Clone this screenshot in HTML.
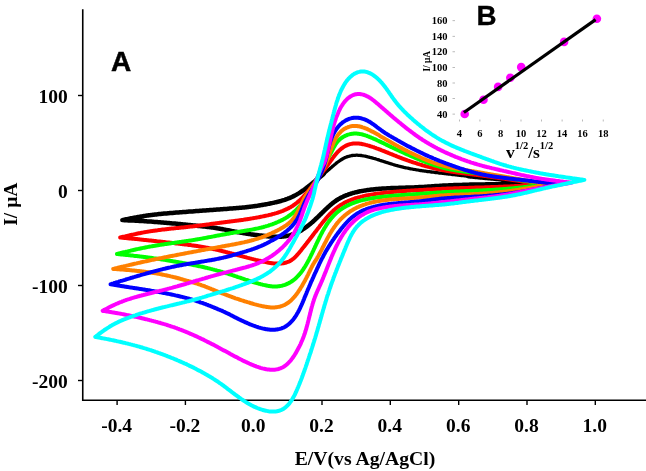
<!DOCTYPE html>
<html><head><meta charset="utf-8"><style>
html,body{margin:0;padding:0;background:#fff;}
svg{display:block;will-change:transform;}
.mt{font-family:"Liberation Serif",serif;font-weight:bold;font-size:19.5px;fill:#000;}
.it{font-family:"Liberation Serif",serif;font-weight:bold;font-size:10.5px;fill:#000;}
.lab{font-family:"Liberation Sans",sans-serif;font-weight:bold;font-size:27px;fill:#000;}
</style></head><body>
<svg width="646" height="471" viewBox="0 0 646 471">
<rect width="646" height="471" fill="#fff"/>
<line x1="82.75" y1="9.3" x2="82.75" y2="401" stroke="#000" stroke-width="1.6"/>
<line x1="82" y1="400.3" x2="646" y2="400.3" stroke="#000" stroke-width="1.6"/>
<line x1="117.1" y1="400" x2="117.1" y2="405" stroke="#000" stroke-width="1.4"/><text x="116.6" y="432.2" text-anchor="middle" class="mt">-0.4</text><line x1="185.4" y1="400" x2="185.4" y2="405" stroke="#000" stroke-width="1.4"/><text x="184.9" y="432.2" text-anchor="middle" class="mt">-0.2</text><text x="253.2" y="432.2" text-anchor="middle" class="mt">0.0</text><line x1="322.0" y1="400" x2="322.0" y2="405" stroke="#000" stroke-width="1.4"/><text x="321.5" y="432.2" text-anchor="middle" class="mt">0.2</text><line x1="390.3" y1="400" x2="390.3" y2="405" stroke="#000" stroke-width="1.4"/><text x="389.8" y="432.2" text-anchor="middle" class="mt">0.4</text><line x1="458.7" y1="400" x2="458.7" y2="405" stroke="#000" stroke-width="1.4"/><text x="458.2" y="432.2" text-anchor="middle" class="mt">0.6</text><line x1="527.0" y1="400" x2="527.0" y2="405" stroke="#000" stroke-width="1.4"/><text x="526.5" y="432.2" text-anchor="middle" class="mt">0.8</text><line x1="595.3" y1="400" x2="595.3" y2="405" stroke="#000" stroke-width="1.4"/><text x="594.8" y="432.2" text-anchor="middle" class="mt">1.0</text><line x1="78" y1="95.5" x2="83" y2="95.5" stroke="#000" stroke-width="1.4"/><text x="67.8" y="102.7" text-anchor="end" class="mt">100</text><line x1="78" y1="190.5" x2="83" y2="190.5" stroke="#000" stroke-width="1.4"/><text x="67.8" y="197.7" text-anchor="end" class="mt">0</text><line x1="78" y1="285.5" x2="83" y2="285.5" stroke="#000" stroke-width="1.4"/><text x="67.8" y="292.7" text-anchor="end" class="mt">-100</text><line x1="78" y1="380.5" x2="83" y2="380.5" stroke="#000" stroke-width="1.4"/><text x="67.8" y="387.7" text-anchor="end" class="mt">-200</text>
<text x="365" y="465" text-anchor="middle" class="mt" style="font-size:19.7px">E/V(vs Ag/AgCl)</text>
<text transform="translate(17.2,204.2) rotate(-90)" text-anchor="middle" class="mt">I/ &#956;A</text>
<text x="121.2" y="70.5" text-anchor="middle" class="lab" style="font-size:28px" stroke="#000" stroke-width="0.5">A</text>
<path d="M322.1,175.3 322.9,174.7 323.6,174.0 324.4,173.4 325.2,172.7 326.0,172.1 326.7,171.4 327.5,170.8 328.3,170.1 329.0,169.5 329.8,168.8 330.6,168.1 331.3,167.5 332.1,166.8 332.8,166.1 333.6,165.5 334.4,164.8 335.2,164.2 335.9,163.6 336.7,162.9 337.5,162.3 338.3,161.7 339.1,161.1 339.9,160.6 340.8,160.0 341.6,159.5 342.4,159.0 343.3,158.5 344.1,158.1 345.0,157.6 345.9,157.3 346.8,156.9 347.7,156.6 348.6,156.3 349.5,156.1 350.5,155.8 351.4,155.7 352.3,155.5 353.3,155.4 354.3,155.3 355.2,155.3 356.2,155.2 357.2,155.2 358.1,155.3 359.1,155.3 360.1,155.4 361.1,155.5 362.1,155.7 363.1,155.8 364.1,156.0 365.1,156.2 366.0,156.4 367.0,156.6 368.0,156.9 369.0,157.1 370.0,157.4 371.0,157.6 372.0,157.9 372.9,158.2 373.9,158.5 374.9,158.7 375.9,159.0 376.8,159.3 377.8,159.6 378.8,159.9 379.7,160.3 380.7,160.6 381.7,160.9 382.6,161.2 383.6,161.5 384.6,161.8 385.5,162.1 386.5,162.4 387.4,162.7 388.4,163.0 389.4,163.3 390.3,163.6 391.3,163.9 392.3,164.2 393.2,164.5 394.2,164.8 395.1,165.1 396.1,165.4 397.1,165.6 398.0,165.9 399.0,166.2 400.0,166.4 400.9,166.7 401.9,166.9 402.9,167.1 403.9,167.4 404.8,167.6 405.8,167.8 406.8,168.0 407.8,168.2 408.7,168.4 409.7,168.6 410.7,168.8 411.7,169.0 412.7,169.2 413.7,169.3 414.6,169.5 415.6,169.7 416.6,169.8 417.6,170.0 418.6,170.2 419.6,170.3 420.6,170.5 421.6,170.6 422.6,170.8 423.5,170.9 424.5,171.1 425.5,171.2 426.5,171.3 427.5,171.5 428.5,171.6 429.5,171.7 430.5,171.9 431.5,172.0 432.5,172.1 433.5,172.2 434.5,172.4 435.5,172.5 436.5,172.6 437.5,172.7 438.4,172.8 439.4,173.0 440.4,173.1 441.4,173.2 442.4,173.3 443.4,173.4 444.4,173.6 445.4,173.7 446.4,173.8 447.4,173.9 448.4,174.0 449.4,174.1 450.4,174.2 451.4,174.4 452.4,174.5 453.4,174.6 454.4,174.7 455.4,174.8 456.4,174.9 457.4,175.0 458.3,175.2 459.3,175.3 460.3,175.4 461.3,175.5 462.3,175.6 463.3,175.7 464.3,175.8 465.3,175.9 466.3,176.0 467.3,176.1 468.3,176.2 469.3,176.3" stroke="#000" stroke-width="3.3" fill="none" stroke-linecap="round"/>
<path d="M468.3,176.2 469.3,176.3 470.3,176.4 471.3,176.5 472.3,176.6 473.3,176.7 474.3,176.8 475.3,176.9 476.3,177.0 477.3,177.1 478.3,177.2 479.3,177.3 480.3,177.4 481.3,177.5 482.3,177.6 483.3,177.7 484.3,177.8 485.2,177.9 486.2,178.0 487.2,178.1 488.2,178.2 489.2,178.2 490.2,178.3 491.2,178.4 492.2,178.5 493.2,178.6 494.2,178.7 495.2,178.8 496.2,178.9 497.2,179.0 498.2,179.1 499.2,179.2 500.2,179.3 501.2,179.4 502.2,179.6 503.2,179.7 504.2,179.8 505.2,179.9 506.2,180.0 507.2,180.1 508.2,180.2 509.2,180.3 510.2,180.4 511.2,180.5 512.1,180.7 513.1,180.8 514.1,180.9 515.1,181.0 516.1,181.1 517.1,181.2 518.1,181.3 519.1,181.5 520.1,181.6 521.1,181.7 522.1,181.8 523.1,181.9 524.1,182.1 525.1,182.2 526.1,182.3 527.1,182.4 528.1,182.5 529.1,182.7 530.1,182.8 531.1,182.9 532.0,183.0 533.0,183.1 534.0,183.3 535.0,183.4 536.0,183.5 537.0,183.6 538.0,183.8 539.0,183.9 540.0,184.0 539.0,184.0 538.0,184.0 537.0,184.0 536.0,184.0 535.0,184.0 534.0,184.0 533.0,184.0 532.0,184.0 531.0,184.0 530.0,184.0 529.0,184.0 528.0,184.0 527.0,184.0 526.0,184.0 525.0,184.0 524.0,184.0 523.0,184.0 522.0,184.0 521.0,184.0 520.0,184.0 519.0,184.0 518.0,184.0 517.0,184.1 516.0,184.1 515.0,184.1 514.0,184.1 513.0,184.1 512.0,184.1 511.0,184.1 510.0,184.1 509.0,184.1 508.0,184.1 507.0,184.1 506.0,184.1 505.0,184.1 504.0,184.1 503.0,184.1 502.0,184.1 501.0,184.2 500.0,184.2 499.0,184.2 498.0,184.2 497.0,184.2 496.0,184.2 495.0,184.2 494.0,184.2 493.0,184.2 492.0,184.3 491.0,184.3 490.0,184.3 489.0,184.3 488.0,184.3 487.0,184.3 486.0,184.3 485.0,184.4 484.0,184.4 483.0,184.4 482.0,184.4 481.0,184.4 480.0,184.4 479.0,184.5 478.0,184.5 477.0,184.5 476.0,184.5 475.0,184.5 474.0,184.6 473.0,184.6 472.0,184.6 471.0,184.6 470.0,184.6 469.0,184.7 468.0,184.7 467.0,184.7 466.0,184.7 465.0,184.8 464.0,184.8 463.0,184.8 462.0,184.9 461.0,184.9 460.0,184.9 459.0,184.9 458.0,185.0 457.0,185.0 456.0,185.1 455.0,185.1 454.0,185.1 453.0,185.2 452.0,185.2 451.0,185.2 450.0,185.3 449.0,185.3 448.0,185.4 447.0,185.4 446.0,185.5 445.0,185.5 444.0,185.6 443.0,185.6 442.0,185.7 441.0,185.7 440.0,185.8 439.0,185.9 438.0,185.9 437.0,186.0 436.0,186.1 435.0,186.1 434.0,186.2 433.0,186.3 432.0,186.3 431.0,186.4 430.0,186.5 429.0,186.5 428.0,186.6 427.0,186.7 426.0,186.7 425.0,186.8 424.0,186.9 423.0,186.9 422.1,187.0 421.1,187.0 420.1,187.1 419.1,187.1 418.1,187.2 417.1,187.2 416.1,187.3 415.1,187.3 414.1,187.4 413.1,187.4 412.1,187.4 411.1,187.5 410.1,187.5 409.1,187.5 408.1,187.6 407.1,187.6 406.1,187.6 405.1,187.7 404.1,187.7 403.1,187.7 402.1,187.7 401.1,187.8 400.1,187.8 399.1,187.8 398.1,187.9 397.1,187.9 396.1,187.9 395.1,188.0 394.1,188.0 393.1,188.1 392.1,188.1 391.1,188.1 390.1,188.2 389.1,188.2 388.1,188.3 387.1,188.3 386.1,188.4 385.1,188.4 384.1,188.5 383.1,188.6 382.1,188.6 381.1,188.7 380.1,188.8 379.1,188.8 378.1,188.9 377.1,189.0 376.1,189.1 375.1,189.2 374.1,189.3 373.1,189.4 372.1,189.5 371.1,189.6 370.1,189.7 369.1,189.9 368.1,190.0 367.1,190.1 366.1,190.3 365.1,190.4 364.1,190.6 363.1,190.8 362.1,190.9 361.1,191.1 360.1,191.3 359.2,191.5 358.2,191.7 357.2,192.0 356.2,192.2 355.3,192.4 354.3,192.7 353.3,192.9 352.4,193.2 351.4,193.5 350.4,193.8 349.5,194.1 348.6,194.4 347.6,194.8 346.7,195.1 345.8,195.5 344.8,195.8 343.9,196.2 343.0,196.7 342.2,197.1 341.3,197.5 340.4,198.0 339.5,198.5 338.7,198.9 337.8,199.5 337.0,200.0 336.2,200.5 335.4,201.1 334.6,201.7 333.8,202.3 333.0,202.9 332.2,203.5 331.5,204.1 330.7,204.8 330.0,205.4 329.2,206.1 328.5,206.7 327.7,207.4 327.0,208.1 326.2,208.8 325.5,209.5 324.8,210.2 324.1,210.9 323.3,211.6 322.6,212.3 321.9,213.0 321.2,213.8 320.4,214.5 319.7,215.2 319.0,215.9 318.3,216.6 317.5,217.3 316.8,218.0 316.0,218.7 315.3,219.4 314.6,220.1 313.8,220.8 313.1,221.5 312.3,222.2 311.5,222.8 310.8,223.5 310.0,224.1 309.2,224.8 308.4,225.4 307.6,226.0 306.8,226.6 306.0,227.2 305.2,227.8 304.4,228.3 303.6,228.9 302.7,229.4 301.9,230.0 301.1,230.5 300.2,231.0 299.3,231.4 298.4,231.9 297.6,232.3 296.7,232.7 295.8,233.1 294.9,233.5 293.9,233.9 293.0,234.2 292.1,234.5 291.1,234.8 290.2,235.1 289.2,235.4 288.3,235.6 287.3,235.8 286.3,236.0 285.4,236.2 284.4,236.3 283.4,236.5 282.4,236.6 281.4,236.7 280.4,236.7 279.5,236.8 278.5,236.8 277.5,236.8 276.5,236.8 275.5,236.8 274.5,236.8 273.5,236.7 272.5,236.7 271.5,236.6 270.5,236.5 269.5,236.5 268.5,236.4 267.5,236.3 266.5,236.2 265.5,236.1 264.5,236.0 263.5,235.8 262.5,235.7 261.5,235.6 260.5,235.5 259.5,235.4 258.5,235.3 257.5,235.2 256.6,235.0 255.6,234.9 254.6,234.8 253.6,234.7 252.6,234.5 251.6,234.4 250.7,234.3 249.7,234.1 248.7,234.0 247.7,233.8 246.8,233.7 245.8,233.6 244.8,233.4 243.9,233.2 242.9,233.1 241.9,232.9 241.0,232.7 240.0,232.6 239.0,232.4 238.1,232.2 237.1,232.0 236.2,231.8 235.2,231.7 234.2,231.5 233.3,231.3 232.3,231.1 231.4,230.9 230.4,230.7 229.4,230.5 228.5,230.3 227.5,230.1 226.5,229.9 225.6,229.8 224.6,229.6 223.6,229.4 222.7,229.2 221.7,229.0 220.7,228.9 219.8,228.7 218.8,228.5 217.8,228.4 216.8,228.2 215.9,228.0 214.9,227.9 213.9,227.7 212.9,227.6 211.9,227.5 211.0,227.3 210.0,227.2 209.0,227.1 208.0,227.0 207.0,226.9 206.0,226.7 205.0,226.6 204.0,226.5 203.1,226.4 202.1,226.3 201.1,226.2 200.1,226.1 199.1,226.0 198.1,225.9 197.1,225.8 196.1,225.7 195.1,225.6 194.1,225.5 193.1,225.4 192.1,225.3 191.1,225.2 190.1,225.1 189.1,225.0 188.2,224.9 187.2,224.8 186.2,224.7 185.2,224.6 184.2,224.5 183.2,224.4 182.2,224.3 181.2,224.2 180.2,224.1 179.2,224.0 178.2,223.9 177.2,223.8 176.2,223.7 175.2,223.6 174.2,223.6 173.2,223.5 172.2,223.4 171.2,223.3 170.2,223.2 169.2,223.1 168.2,223.0 167.2,222.9 166.2,222.8 165.2,222.7 164.2,222.7 163.2,222.6 162.2,222.5 161.2,222.4 160.2,222.3 159.2,222.2 158.2,222.2 157.3,222.1 156.3,222.0 155.3,221.9 154.3,221.9 153.3,221.8 152.3,221.7 151.3,221.6 150.3,221.6 149.3,221.5 148.3,221.4 147.3,221.4 146.3,221.3 145.3,221.2 144.3,221.2 143.3,221.1 142.3,221.0 141.3,221.0 140.3,220.9 139.3,220.9 138.3,220.8 137.3,220.8 136.3,220.7 135.3,220.7 134.3,220.6 133.3,220.6 132.3,220.5 131.3,220.5 130.3,220.4 129.3,220.4 128.3,220.4 127.3,220.3 126.3,220.3 125.3,220.2 124.3,220.2 123.3,220.1 122.3,220.1 123.3,219.9 124.3,219.7 125.2,219.5 126.2,219.3 127.2,219.1 128.2,218.9 129.2,218.7 130.2,218.5 131.1,218.3 132.1,218.1 133.1,217.9 134.1,217.7 135.1,217.6 136.1,217.4 137.0,217.2 138.0,217.0 139.0,216.9 140.0,216.7 141.0,216.5 142.0,216.4 143.0,216.2 143.9,216.0 144.9,215.9 145.9,215.7 146.9,215.6 147.9,215.5 148.9,215.3 149.9,215.2 150.9,215.1 151.9,214.9 152.9,214.8 153.9,214.7 154.8,214.6 155.8,214.5 156.8,214.4 157.8,214.2 158.8,214.1 159.8,214.0 160.8,213.9 161.8,213.8 162.8,213.7 163.8,213.6 164.8,213.5 165.8,213.5 166.8,213.4 167.8,213.3 168.8,213.2 169.8,213.1 170.8,213.0 171.8,212.9 172.8,212.9 173.8,212.8 174.8,212.7 175.8,212.6 176.8,212.5 177.8,212.5 178.8,212.4 179.8,212.3 180.8,212.2 181.8,212.2 182.8,212.1 183.8,212.0 184.8,211.9 185.8,211.9 186.8,211.8 187.8,211.7 188.8,211.6 189.8,211.6 190.8,211.5 191.8,211.4 192.8,211.4 193.8,211.3 194.8,211.2 195.8,211.1 196.8,211.1 197.8,211.0 198.8,210.9 199.8,210.8 200.8,210.8 201.8,210.7 202.8,210.6 203.8,210.5 204.8,210.5 205.8,210.4 206.8,210.3 207.8,210.2 208.8,210.2 209.8,210.1 210.8,210.0 211.8,210.0 212.8,209.9 213.8,209.8 214.7,209.7 215.7,209.7 216.7,209.6 217.7,209.5 218.7,209.4 219.7,209.4 220.7,209.3 221.7,209.2 222.7,209.2 223.7,209.1 224.7,209.0 225.7,208.9 226.7,208.9 227.7,208.8 228.7,208.7 229.7,208.6 230.6,208.6 231.6,208.5 232.6,208.4 233.6,208.3 234.6,208.3 235.6,208.2 236.6,208.1 237.6,208.0 238.6,207.9 239.5,207.8 240.5,207.8 241.5,207.7 242.5,207.6 243.5,207.5 244.5,207.4 245.5,207.3 246.5,207.2 247.4,207.0 248.4,206.9 249.4,206.8 250.4,206.7 251.4,206.6 252.4,206.4 253.4,206.3 254.3,206.2 255.3,206.0 256.3,205.9 257.3,205.8 258.3,205.6 259.3,205.5 260.3,205.3 261.2,205.1 262.2,205.0 263.2,204.8 264.2,204.6 265.2,204.5 266.2,204.3 267.2,204.1 268.1,203.9 269.1,203.7 270.1,203.5 271.1,203.3 272.1,203.1 273.0,202.9 274.0,202.7 275.0,202.4 276.0,202.2 276.9,202.0 277.9,201.7 278.9,201.5 279.9,201.2 280.8,201.0 281.8,200.7 282.7,200.4 283.7,200.1 284.7,199.8 285.6,199.5 286.5,199.1 287.5,198.8 288.4,198.4 289.3,198.1 290.2,197.7 291.2,197.3 292.1,196.9 293.0,196.5 293.8,196.0 294.7,195.6 295.6,195.1 296.5,194.6 297.3,194.1 298.2,193.6 299.1,193.1 299.9,192.6 300.7,192.0 301.6,191.5 302.4,190.9 303.2,190.3 304.0,189.8 304.8,189.2 305.6,188.6 306.4,188.0 307.2,187.4 308.0,186.7 308.8,186.1 309.6,185.5 310.4,184.9 311.2,184.2 311.9,183.6 312.7,183.0 313.5,182.3 314.3,181.7 315.1,181.1 315.8,180.4 316.6,179.8 317.4,179.2 318.2,178.5 319.0,177.9 319.7,177.2 320.5,176.6 321.3,176.0 322.1,175.3 322.9,174.7 323.6,174.0" stroke="#000" stroke-width="4.5" fill="none" stroke-linejoin="round" stroke-linecap="round"/>
<path d="M120.2,237.5 121.2,237.3 122.1,237.0 123.1,236.8 124.1,236.6 125.1,236.4 126.0,236.1 127.0,235.9 128.0,235.7 129.0,235.5 129.9,235.2 130.9,235.0 131.9,234.8 132.9,234.6 133.8,234.4 134.8,234.2 135.8,234.0 136.8,233.7 137.8,233.5 138.7,233.3 139.7,233.2 140.7,233.0 141.7,232.8 142.7,232.6 143.6,232.4 144.6,232.2 145.6,232.1 146.6,231.9 147.6,231.7 148.6,231.6 149.5,231.4 150.5,231.2 151.5,231.1 152.5,230.9 153.5,230.8 154.5,230.7 155.5,230.5 156.5,230.4 157.5,230.3 158.5,230.1 159.4,230.0 160.4,229.9 161.4,229.7 162.4,229.6 163.4,229.5 164.4,229.4 165.4,229.3 166.4,229.2 167.4,229.0 168.4,228.9 169.4,228.8 170.4,228.7 171.4,228.6 172.4,228.5 173.4,228.4 174.3,228.3 175.3,228.2 176.3,228.1 177.3,228.0 178.3,227.9 179.3,227.8 180.3,227.7 181.3,227.6 182.3,227.5 183.3,227.4 184.3,227.3 185.3,227.2 186.3,227.0 187.3,226.9 188.3,226.8 189.3,226.7 190.3,226.6 191.3,226.5 192.3,226.4 193.3,226.3 194.2,226.2 195.2,226.0 196.2,225.9 197.2,225.8 198.2,225.7 199.2,225.6 200.2,225.4 201.2,225.3 202.2,225.2 203.2,225.0 204.2,224.9 205.1,224.8 206.1,224.7 207.1,224.5 208.1,224.4 209.1,224.3 210.1,224.1 211.1,224.0 212.1,223.8 213.0,223.7 214.0,223.6 215.0,223.4 216.0,223.3 217.0,223.2 218.0,223.1 219.0,222.9 219.9,222.8 220.9,222.7 221.9,222.5 222.9,222.4 223.9,222.3 224.8,222.2 225.8,222.0 226.8,221.9 227.8,221.8 228.8,221.7 229.7,221.5 230.7,221.4 231.7,221.3 232.7,221.2 233.6,221.1 234.6,220.9 235.6,220.8 236.6,220.7 237.5,220.6 238.5,220.4 239.5,220.3 240.5,220.2 241.4,220.0 242.4,219.9 243.4,219.8 244.3,219.6 245.3,219.5 246.3,219.3 247.2,219.2 248.2,219.0 249.2,218.9 250.2,218.7 251.1,218.6 252.1,218.4 253.1,218.2 254.0,218.1 255.0,217.9 256.0,217.7 256.9,217.6 257.9,217.4 258.9,217.2 259.9,217.0 260.8,216.8 261.8,216.6 262.8,216.4 263.7,216.2 264.7,216.0 265.7,215.8 266.6,215.6 267.6,215.4 268.6,215.2 269.5,214.9 270.5,214.7 271.5,214.5 272.4,214.2 273.4,213.9 274.4,213.7 275.3,213.4 276.3,213.1 277.2,212.8 278.2,212.5 279.1,212.2 280.1,211.9 281.0,211.5 281.9,211.2 282.9,210.8 283.8,210.4 284.7,210.0 285.6,209.6 286.5,209.2 287.4,208.8 288.3,208.3 289.2,207.9 290.0,207.4 290.9,206.9 291.7,206.4 292.6,205.9 293.4,205.3 294.2,204.7 295.0,204.2 295.8,203.6 296.6,203.0 297.4,202.4 298.1,201.7 298.9,201.1 299.6,200.4 300.4,199.7 301.1,199.1 301.8,198.4 302.5,197.6 303.2,196.9 303.8,196.2 304.5,195.4 305.2,194.7 305.8,193.9 306.4,193.2 307.1,192.4 307.7,191.6 308.3,190.8 309.0,190.0 309.6,189.3 310.2,188.5 310.8,187.7 311.4,186.9 312.0,186.0 312.6,185.2 313.2,184.4 313.8,183.6 314.4,182.8 315.0,182.0 315.6,181.2 316.2,180.4 316.9,179.6 317.5,178.8 318.1,178.0 318.7,177.2 319.3,176.4 319.9,175.6 320.5,174.8 321.1,174.0 321.7,173.2 322.3,172.4 322.9,171.6 323.5,170.8 324.2,170.0 324.8,169.2 325.4,168.3 326.0,167.5 326.6,166.7 327.1,165.9 327.7,165.1 328.3,164.2 328.9,163.4 329.5,162.6 330.1,161.7 330.7,160.9 331.3,160.1 331.9,159.3 332.5,158.4 333.1,157.6 333.7,156.8 334.3,156.0 334.9,155.2 335.6,154.4 336.2,153.7 336.9,152.9 337.5,152.2 338.2,151.5 338.9,150.8 339.6,150.1 340.4,149.5 341.1,148.8 341.9,148.2 342.7,147.7 343.5,147.1 344.3,146.6 345.1,146.1 345.9,145.7 346.8,145.3 347.7,144.9 348.5,144.6 349.4,144.3 350.3,144.1 351.3,143.9 352.2,143.7 353.1,143.6 354.1,143.5 355.0,143.5 356.0,143.4 357.0,143.5 357.9,143.5 358.9,143.6 359.9,143.7 360.9,143.8 361.8,144.0 362.8,144.2 363.8,144.4 364.8,144.6 365.8,144.9 366.8,145.1 367.7,145.4 368.7,145.7 369.7,146.0 370.7,146.3 371.7,146.6 372.6,146.9 373.6,147.2 374.6,147.6 375.5,147.9 376.5,148.3 377.4,148.6 378.4,149.0 379.3,149.3 380.3,149.7 381.2,150.1 382.2,150.5 383.1,150.8 384.1,151.2 385.0,151.6 385.9,152.0 386.9,152.3 387.8,152.7 388.7,153.1 389.7,153.5 390.6,153.9 391.5,154.2 392.5,154.6 393.4,155.0 394.3,155.4 395.3,155.7 396.2,156.1 397.1,156.5 398.0,156.9 399.0,157.2 399.9,157.6 400.8,157.9 401.8,158.3 402.7,158.7 403.6,159.0 404.6,159.3 405.5,159.7 406.5,160.0 407.4,160.4 408.3,160.7 409.3,161.0 410.2,161.4 411.2,161.7 412.1,162.0 413.1,162.3 414.0,162.6 415.0,162.9 415.9,163.2 416.9,163.5 417.8,163.8 418.8,164.1 419.7,164.4 420.7,164.7 421.7,165.0 422.6,165.3 423.6,165.6 424.5,165.8 425.5,166.1 426.5,166.4 427.4,166.6 428.4,166.9 429.4,167.1 430.3,167.4 431.3,167.6 432.3,167.9 433.2,168.1 434.2,168.3 435.2,168.5 436.2,168.8 437.1,169.0 438.1,169.2 439.1,169.4 440.1,169.6 441.1,169.8 442.0,170.0 443.0,170.2 444.0,170.4 445.0,170.5 446.0,170.7 446.9,170.9 447.9,171.0 448.9,171.2 449.9,171.4 450.9,171.5 451.9,171.7 452.9,171.8 453.9,172.0 454.8,172.1 455.8,172.3 456.8,172.4 457.8,172.5 458.8,172.7 459.8,172.8 460.8,172.9 461.8,173.0 462.8,173.2 463.8,173.3 464.8,173.4 465.7,173.5 466.7,173.7 467.7,173.8 468.7,173.9 469.7,174.0 470.7,174.2 471.7,174.3 472.7,174.4 473.7,174.5 474.7,174.7 475.7,174.8 476.7,174.9 477.7,175.1 478.6,175.2 479.6,175.3 480.6,175.4 481.6,175.6 482.6,175.7 483.6,175.8 484.6,176.0 485.6,176.1 486.6,176.2 487.6,176.4 488.6,176.5 489.6,176.6 490.5,176.8 491.5,176.9 492.5,177.1 493.5,177.2 494.5,177.3 495.5,177.5 496.5,177.6 497.5,177.8 498.5,177.9 499.5,178.0 500.5,178.2 501.4,178.3 502.4,178.5 503.4,178.6 504.4,178.7 505.4,178.9 506.4,179.0 507.4,179.2 508.4,179.3 509.4,179.5 510.4,179.6 511.3,179.8 512.3,179.9 513.3,180.0 514.3,180.2 515.3,180.3 516.3,180.5 517.3,180.6 518.3,180.8 519.3,180.9 520.2,181.1 521.2,181.2 522.2,181.4 523.2,181.5 524.2,181.7 525.2,181.8 526.2,182.0 527.2,182.1 528.2,182.3 529.2,182.4 530.1,182.6 531.1,182.7 532.1,182.9 533.1,183.0 534.1,183.2 535.1,183.3 536.1,183.4 537.1,183.6 538.1,183.7 539.0,183.9 540.0,184.0 541.0,184.2 542.0,184.3 543.0,184.5 542.0,184.6 541.0,184.6 540.0,184.7 539.0,184.7 538.0,184.8 537.0,184.9 536.0,184.9 535.0,185.0 534.0,185.1 533.0,185.1 532.0,185.2 531.0,185.2 530.0,185.3 529.0,185.3 528.0,185.4 527.0,185.5 526.0,185.5 525.0,185.6 524.0,185.6 523.0,185.7 522.0,185.8 521.0,185.8 520.0,185.9 519.0,185.9 518.0,186.0 517.0,186.0 516.0,186.1 515.0,186.1 514.0,186.2 513.0,186.2 512.0,186.3 511.0,186.3 510.0,186.4 509.0,186.4 508.0,186.5 507.0,186.5 506.0,186.6 505.0,186.6 504.0,186.6 503.0,186.7 502.0,186.7 501.0,186.8 500.0,186.8 499.0,186.8 498.0,186.9 497.1,186.9 496.1,187.0 495.1,187.0 494.1,187.0 493.1,187.1 492.1,187.1 491.1,187.1 490.1,187.2 489.1,187.2 488.1,187.2 487.1,187.3 486.1,187.3 485.1,187.3 484.1,187.4 483.1,187.4 482.1,187.4 481.1,187.5 480.1,187.5 479.1,187.5 478.1,187.6 477.1,187.6 476.1,187.6 475.1,187.6 474.1,187.7 473.1,187.7 472.1,187.7 471.1,187.8 470.1,187.8 469.1,187.8 468.1,187.9 467.1,187.9 466.1,187.9 465.1,188.0 464.1,188.0 463.1,188.0 462.1,188.1 461.1,188.1 460.1,188.1 459.1,188.2 458.1,188.2 457.1,188.2 456.1,188.3 455.1,188.3 454.1,188.3 453.1,188.4 452.1,188.4 451.1,188.4 450.1,188.5 449.1,188.5 448.1,188.6 447.1,188.6 446.1,188.7 445.1,188.7 444.1,188.7 443.1,188.8 442.1,188.8 441.1,188.9 440.1,188.9 439.1,189.0 438.1,189.0 437.1,189.1 436.1,189.1 435.1,189.2 434.1,189.2 433.1,189.3 432.1,189.4 431.1,189.4 430.1,189.5 429.1,189.5 428.1,189.6 427.1,189.6 426.1,189.7 425.1,189.8 424.1,189.8 423.1,189.9 422.1,189.9 421.1,190.0 420.1,190.1 419.1,190.1 418.1,190.2 417.1,190.2 416.1,190.3 415.1,190.3 414.1,190.4 413.1,190.5 412.1,190.5 411.1,190.6 410.1,190.7 409.1,190.7 408.1,190.8 407.1,190.8 406.1,190.9 405.1,191.0 404.1,191.0 403.1,191.1 402.1,191.2 401.1,191.3 400.1,191.3 399.1,191.4 398.1,191.5 397.1,191.6 396.1,191.7 395.1,191.7 394.1,191.8 393.1,191.9 392.1,192.0 391.1,192.1 390.1,192.2 389.1,192.3 388.2,192.4 387.2,192.5 386.2,192.6 385.2,192.7 384.2,192.8 383.2,192.9 382.2,193.1 381.2,193.2 380.2,193.3 379.2,193.4 378.2,193.6 377.2,193.7 376.2,193.8 375.2,194.0 374.2,194.1 373.2,194.3 372.2,194.4 371.2,194.6 370.2,194.8 369.3,194.9 368.3,195.1 367.3,195.3 366.3,195.5 365.3,195.7 364.3,195.9 363.3,196.1 362.4,196.4 361.4,196.6 360.4,196.9 359.5,197.1 358.5,197.4 357.5,197.7 356.6,197.9 355.6,198.2 354.7,198.5 353.7,198.9 352.8,199.2 351.8,199.6 350.9,199.9 350.0,200.3 349.0,200.7 348.1,201.1 347.2,201.5 346.3,201.9 345.4,202.3 344.5,202.8 343.7,203.3 342.8,203.8 342.0,204.2 341.1,204.8 340.3,205.3 339.5,205.8 338.6,206.4 337.8,207.0 337.1,207.6 336.3,208.2 335.5,208.8 334.8,209.4 334.0,210.1 333.3,210.7 332.6,211.4 331.8,212.1 331.1,212.8 330.4,213.5 329.7,214.2 329.1,214.9 328.4,215.7 327.7,216.4 327.0,217.2 326.4,217.9 325.7,218.7 325.1,219.5 324.4,220.3 323.8,221.1 323.2,221.8 322.5,222.6 321.9,223.4 321.3,224.2 320.6,225.0 320.0,225.8 319.4,226.7 318.8,227.5 318.1,228.3 317.5,229.1 316.9,229.9 316.3,230.7 315.7,231.5 315.0,232.3 314.4,233.1 313.8,233.9 313.2,234.7 312.6,235.5 312.0,236.4 311.3,237.2 310.7,238.0 310.1,238.8 309.5,239.6 308.9,240.4 308.2,241.2 307.6,242.0 307.0,242.8 306.4,243.6 305.8,244.4 305.1,245.2 304.5,246.0 303.9,246.8 303.3,247.5 302.6,248.3 302.0,249.1 301.4,249.9 300.8,250.7 300.1,251.5 299.5,252.2 298.9,253.0 298.2,253.8 297.6,254.5 296.9,255.2 296.3,255.9 295.6,256.6 294.9,257.3 294.2,258.0 293.5,258.6 292.7,259.2 292.0,259.7 291.2,260.2 290.4,260.7 289.6,261.2 288.8,261.6 287.9,261.9 287.1,262.2 286.2,262.5 285.3,262.8 284.4,263.0 283.4,263.2 282.5,263.3 281.5,263.5 280.6,263.5 279.6,263.6 278.7,263.6 277.7,263.6 276.7,263.6 275.7,263.6 274.7,263.5 273.7,263.4 272.7,263.3 271.7,263.2 270.7,263.0 269.7,262.9 268.7,262.7 267.7,262.5 266.7,262.3 265.7,262.1 264.7,261.9 263.7,261.7 262.7,261.5 261.8,261.3 260.8,261.0 259.8,260.8 258.8,260.6 257.8,260.3 256.8,260.1 255.8,259.9 254.9,259.6 253.9,259.4 252.9,259.1 251.9,258.9 250.9,258.6 250.0,258.4 249.0,258.1 248.0,257.9 247.0,257.6 246.1,257.3 245.1,257.1 244.1,256.8 243.2,256.6 242.2,256.3 241.2,256.1 240.3,255.8 239.3,255.5 238.3,255.3 237.4,255.0 236.4,254.8 235.4,254.5 234.5,254.2 233.5,254.0 232.5,253.7 231.6,253.5 230.6,253.2 229.6,253.0 228.7,252.7 227.7,252.5 226.7,252.2 225.8,252.0 224.8,251.7 223.8,251.5 222.9,251.3 221.9,251.0 220.9,250.8 220.0,250.6 219.0,250.3 218.0,250.1 217.1,249.9 216.1,249.7 215.1,249.4 214.1,249.2 213.2,249.0 212.2,248.8 211.2,248.6 210.3,248.4 209.3,248.2 208.3,248.0 207.3,247.8 206.4,247.7 205.4,247.5 204.4,247.3 203.4,247.1 202.5,247.0 201.5,246.8 200.5,246.6 199.5,246.5 198.5,246.3 197.6,246.1 196.6,246.0 195.6,245.8 194.6,245.7 193.6,245.5 192.7,245.4 191.7,245.3 190.7,245.1 189.7,245.0 188.7,244.9 187.8,244.8 186.8,244.6 185.8,244.5 184.8,244.4 183.8,244.3 182.8,244.2 181.8,244.1 180.8,243.9 179.9,243.8 178.9,243.7 177.9,243.6 176.9,243.5 175.9,243.4 174.9,243.3 173.9,243.1 172.9,243.0 171.9,242.9 170.9,242.8 170.0,242.7 169.0,242.6 168.0,242.5 167.0,242.4 166.0,242.3 165.0,242.1 164.0,242.0 163.0,241.9 162.0,241.8 161.0,241.7 160.0,241.6 159.0,241.5 158.0,241.4 157.0,241.3 156.0,241.1 155.0,241.0 154.1,240.9 153.1,240.8 152.1,240.7 151.1,240.6 150.1,240.5 149.1,240.4 148.1,240.3 147.1,240.2 146.1,240.1 145.1,240.0 144.1,239.9 143.1,239.8 142.1,239.7 141.1,239.6 140.1,239.4 139.1,239.3 138.1,239.2 137.1,239.1 136.1,239.0 135.1,238.9 134.1,238.8 133.1,238.8 132.2,238.7 131.2,238.6 130.2,238.5 129.2,238.4 128.2,238.3 127.2,238.2 126.2,238.1 125.2,238.0 124.2,237.9 123.2,237.8 122.2,237.7 121.2,237.6 120.2,237.5" stroke="#ff0000" stroke-width="4.0" fill="none" stroke-linejoin="round" stroke-linecap="round"/>
<path d="M117.0,254.0 118.0,253.8 118.9,253.5 119.9,253.3 120.9,253.0 121.9,252.8 122.8,252.5 123.8,252.3 124.8,252.1 125.8,251.8 126.7,251.6 127.7,251.4 128.7,251.1 129.6,250.9 130.6,250.7 131.6,250.4 132.6,250.2 133.5,250.0 134.5,249.8 135.5,249.5 136.5,249.3 137.5,249.1 138.4,248.9 139.4,248.7 140.4,248.5 141.4,248.3 142.3,248.1 143.3,247.9 144.3,247.7 145.3,247.5 146.3,247.3 147.3,247.1 148.2,246.9 149.2,246.7 150.2,246.6 151.2,246.4 152.2,246.2 153.2,246.0 154.2,245.9 155.1,245.7 156.1,245.5 157.1,245.4 158.1,245.2 159.1,245.1 160.1,244.9 161.1,244.7 162.1,244.6 163.1,244.4 164.0,244.3 165.0,244.1 166.0,244.0 167.0,243.9 168.0,243.7 169.0,243.6 170.0,243.4 171.0,243.3 172.0,243.1 173.0,243.0 174.0,242.9 174.9,242.7 175.9,242.6 176.9,242.4 177.9,242.3 178.9,242.2 179.9,242.0 180.9,241.9 181.9,241.7 182.9,241.6 183.9,241.4 184.9,241.3 185.9,241.2 186.8,241.0 187.8,240.9 188.8,240.7 189.8,240.6 190.8,240.4 191.8,240.3 192.8,240.1 193.8,239.9 194.8,239.8 195.7,239.6 196.7,239.5 197.7,239.3 198.7,239.1 199.7,238.9 200.7,238.8 201.7,238.6 202.6,238.4 203.6,238.2 204.6,238.1 205.6,237.9 206.6,237.7 207.6,237.5 208.5,237.3 209.5,237.1 210.5,236.9 211.5,236.8 212.5,236.6 213.5,236.4 214.4,236.2 215.4,236.0 216.4,235.8 217.4,235.6 218.4,235.5 219.4,235.3 220.3,235.1 221.3,234.9 222.3,234.7 223.3,234.5 224.3,234.4 225.2,234.2 226.2,234.0 227.2,233.8 228.2,233.7 229.2,233.5 230.2,233.3 231.2,233.1 232.1,233.0 233.1,232.8 234.1,232.6 235.1,232.5 236.1,232.3 237.1,232.1 238.0,232.0 239.0,231.8 240.0,231.6 241.0,231.5 242.0,231.3 243.0,231.1 244.0,231.0 244.9,230.8 245.9,230.6 246.9,230.5 247.9,230.3 248.9,230.1 249.9,229.9 250.8,229.8 251.8,229.6 252.8,229.4 253.8,229.2 254.8,229.0 255.8,228.8 256.7,228.6 257.7,228.4 258.7,228.2 259.7,227.9 260.6,227.7 261.6,227.5 262.6,227.2 263.6,227.0 264.5,226.7 265.5,226.4 266.4,226.1 267.4,225.9 268.4,225.6 269.3,225.2 270.3,224.9 271.2,224.6 272.2,224.3 273.1,223.9 274.0,223.6 275.0,223.2 275.9,222.8 276.8,222.4 277.8,222.0 278.7,221.6 279.6,221.2 280.5,220.8 281.4,220.3 282.3,219.9 283.2,219.4 284.0,218.9 284.9,218.4 285.8,217.9 286.6,217.4 287.5,216.9 288.3,216.3 289.1,215.8 289.9,215.2 290.7,214.6 291.5,214.0 292.3,213.4 293.1,212.7 293.8,212.1 294.6,211.4 295.3,210.8 296.0,210.1 296.7,209.4 297.4,208.7 298.1,207.9 298.8,207.2 299.4,206.5 300.1,205.7 300.7,205.0 301.3,204.2 302.0,203.4 302.6,202.6 303.2,201.8 303.8,201.0 304.3,200.2 304.9,199.4 305.5,198.5 306.0,197.7 306.6,196.9 307.1,196.0 307.6,195.2 308.2,194.3 308.7,193.5 309.2,192.6 309.7,191.7 310.2,190.8 310.7,190.0 311.2,189.1 311.7,188.2 312.2,187.3 312.7,186.4 313.2,185.5 313.7,184.6 314.2,183.8 314.7,182.9 315.2,182.0 315.7,181.1 316.2,180.2 316.6,179.3 317.1,178.4 317.6,177.5 318.1,176.6 318.6,175.7 319.1,174.8 319.6,174.0 320.1,173.1 320.6,172.2 321.0,171.3 321.5,170.4 322.0,169.5 322.5,168.6 323.0,167.7 323.5,166.8 323.9,166.0 324.4,165.1 324.9,164.2 325.4,163.3 325.9,162.4 326.3,161.5 326.8,160.6 327.3,159.8 327.8,158.9 328.2,158.0 328.7,157.1 329.2,156.2 329.6,155.4 330.1,154.5 330.5,153.6 331.0,152.7 331.5,151.9 331.9,151.0 332.4,150.1 332.8,149.3 333.3,148.4 333.7,147.5 334.2,146.7 334.7,145.8 335.1,145.0 335.6,144.2 336.2,143.4 336.7,142.6 337.3,141.9 337.9,141.2 338.6,140.5 339.3,139.8 340.0,139.2 340.7,138.6 341.5,138.0 342.2,137.5 343.0,137.0 343.9,136.5 344.7,136.1 345.6,135.7 346.4,135.3 347.3,134.9 348.2,134.6 349.2,134.4 350.1,134.1 351.0,133.9 352.0,133.8 352.9,133.7 353.9,133.6 354.8,133.5 355.8,133.5 356.8,133.6 357.7,133.7 358.7,133.8 359.6,133.9 360.6,134.1 361.6,134.3 362.5,134.5 363.5,134.8 364.5,135.1 365.4,135.4 366.4,135.7 367.3,136.1 368.3,136.4 369.2,136.8 370.2,137.2 371.1,137.6 372.1,138.0 373.0,138.4 373.9,138.8 374.9,139.2 375.8,139.6 376.7,140.1 377.6,140.5 378.6,140.9 379.5,141.4 380.4,141.8 381.3,142.2 382.2,142.7 383.2,143.1 384.1,143.6 385.0,144.0 385.9,144.4 386.8,144.9 387.7,145.3 388.6,145.8 389.5,146.2 390.4,146.6 391.4,147.1 392.3,147.5 393.2,147.9 394.1,148.3 395.0,148.8 395.9,149.2 396.8,149.6 397.7,150.0 398.6,150.5 399.5,150.9 400.4,151.3 401.4,151.7 402.3,152.1 403.2,152.5 404.1,153.0 405.0,153.4 405.9,153.8 406.8,154.2 407.7,154.6 408.7,155.0 409.6,155.4 410.5,155.8 411.4,156.2 412.3,156.6 413.2,157.0 414.2,157.4 415.1,157.8 416.0,158.2 416.9,158.6 417.9,159.0 418.8,159.4 419.7,159.7 420.6,160.1 421.6,160.5 422.5,160.9 423.4,161.2 424.4,161.6 425.3,161.9 426.2,162.3 427.2,162.6 428.1,163.0 429.0,163.3 430.0,163.7 430.9,164.0 431.9,164.3 432.8,164.6 433.8,165.0 434.7,165.3 435.7,165.6 436.6,165.9 437.6,166.1 438.5,166.4 439.5,166.7 440.4,167.0 441.4,167.2 442.4,167.5 443.3,167.8 444.3,168.0 445.3,168.2 446.2,168.5 447.2,168.7 448.2,168.9 449.1,169.1 450.1,169.3 451.1,169.5 452.1,169.7 453.0,169.9 454.0,170.1 455.0,170.2 456.0,170.4 457.0,170.5 458.0,170.7 458.9,170.8 459.9,171.0 460.9,171.1 461.9,171.2 462.9,171.4 463.9,171.5 464.9,171.6 465.9,171.8 466.9,171.9 467.9,172.0 468.8,172.2 469.8,172.3 470.8,172.4 471.8,172.5 472.8,172.7 473.8,172.8 474.8,172.9 475.8,173.1 476.8,173.2 477.8,173.4 478.8,173.5 479.7,173.6 480.7,173.8 481.7,173.9 482.7,174.1 483.7,174.2 484.7,174.3 485.7,174.5 486.7,174.6 487.7,174.8 488.7,174.9 489.6,175.1 490.6,175.2 491.6,175.4 492.6,175.5 493.6,175.7 494.6,175.8 495.6,176.0 496.6,176.1 497.6,176.3 498.5,176.5 499.5,176.6 500.5,176.8 501.5,176.9 502.5,177.1 503.5,177.2 504.5,177.4 505.5,177.6 506.5,177.7 507.4,177.9 508.4,178.1 509.4,178.2 510.4,178.4 511.4,178.5 512.4,178.7 513.4,178.9 514.4,179.0 515.4,179.2 516.3,179.4 517.3,179.5 518.3,179.7 519.3,179.9 520.3,180.0 521.3,180.2 522.3,180.4 523.3,180.5 524.3,180.7 525.2,180.9 526.2,181.1 527.2,181.2 528.2,181.4 529.2,181.6 530.2,181.7 531.2,181.9 532.2,182.1 533.2,182.3 534.1,182.4 535.1,182.6 536.1,182.8 537.1,182.9 538.1,183.1 539.1,183.3 540.1,183.5 541.1,183.6 542.0,183.8 543.0,184.0 544.0,184.2 545.0,184.3 546.0,184.5 545.0,184.6 544.0,184.8 543.0,184.9 542.0,185.0 541.0,185.1 540.0,185.2 539.0,185.4 538.0,185.5 537.1,185.6 536.1,185.7 535.1,185.9 534.1,186.0 533.1,186.1 532.1,186.2 531.1,186.3 530.1,186.5 529.1,186.6 528.1,186.7 527.1,186.8 526.1,186.9 525.1,187.0 524.1,187.1 523.1,187.3 522.1,187.4 521.1,187.5 520.1,187.6 519.1,187.7 518.1,187.8 517.2,187.9 516.2,188.0 515.2,188.1 514.2,188.2 513.2,188.3 512.2,188.4 511.2,188.5 510.2,188.6 509.2,188.6 508.2,188.7 507.2,188.8 506.2,188.9 505.2,189.0 504.2,189.1 503.2,189.1 502.2,189.2 501.2,189.3 500.2,189.3 499.2,189.4 498.2,189.5 497.2,189.5 496.2,189.6 495.2,189.7 494.2,189.7 493.2,189.8 492.2,189.9 491.2,189.9 490.2,190.0 489.2,190.0 488.2,190.1 487.2,190.1 486.2,190.2 485.2,190.2 484.2,190.3 483.2,190.3 482.2,190.4 481.2,190.4 480.2,190.5 479.2,190.5 478.2,190.6 477.2,190.6 476.2,190.6 475.2,190.7 474.2,190.7 473.2,190.8 472.2,190.8 471.2,190.9 470.2,190.9 469.2,191.0 468.2,191.0 467.2,191.0 466.2,191.1 465.2,191.1 464.2,191.2 463.2,191.2 462.2,191.3 461.2,191.3 460.2,191.4 459.2,191.4 458.2,191.4 457.2,191.5 456.2,191.5 455.2,191.6 454.2,191.6 453.2,191.7 452.2,191.7 451.2,191.8 450.2,191.8 449.2,191.9 448.2,191.9 447.2,192.0 446.2,192.1 445.2,192.1 444.2,192.2 443.2,192.2 442.2,192.3 441.2,192.4 440.2,192.4 439.2,192.5 438.2,192.5 437.2,192.6 436.2,192.7 435.2,192.8 434.2,192.8 433.2,192.9 432.2,193.0 431.2,193.0 430.2,193.1 429.2,193.2 428.2,193.2 427.2,193.3 426.2,193.4 425.2,193.5 424.2,193.5 423.2,193.6 422.2,193.7 421.2,193.7 420.2,193.8 419.2,193.9 418.2,194.0 417.2,194.0 416.2,194.1 415.2,194.2 414.2,194.2 413.2,194.3 412.2,194.4 411.2,194.4 410.2,194.5 409.2,194.6 408.2,194.6 407.2,194.7 406.2,194.8 405.2,194.8 404.2,194.9 403.2,195.0 402.2,195.0 401.2,195.1 400.2,195.2 399.2,195.3 398.2,195.3 397.2,195.4 396.2,195.5 395.2,195.6 394.2,195.7 393.2,195.7 392.2,195.8 391.2,195.9 390.2,196.0 389.2,196.1 388.2,196.2 387.2,196.3 386.2,196.4 385.2,196.5 384.2,196.6 383.2,196.7 382.3,196.8 381.3,197.0 380.3,197.1 379.3,197.2 378.3,197.3 377.3,197.5 376.3,197.6 375.3,197.7 374.3,197.9 373.3,198.0 372.3,198.2 371.3,198.4 370.3,198.5 369.3,198.7 368.3,198.9 367.3,199.1 366.3,199.3 365.3,199.5 364.4,199.7 363.4,199.9 362.4,200.2 361.4,200.4 360.4,200.7 359.5,200.9 358.5,201.2 357.6,201.5 356.6,201.8 355.6,202.1 354.7,202.5 353.7,202.8 352.8,203.2 351.9,203.5 351.0,203.9 350.0,204.3 349.1,204.7 348.2,205.2 347.3,205.6 346.4,206.1 345.6,206.5 344.7,207.0 343.9,207.5 343.0,208.0 342.2,208.5 341.4,209.1 340.6,209.6 339.8,210.2 339.0,210.8 338.2,211.4 337.5,212.0 336.8,212.7 336.0,213.3 335.3,214.0 334.7,214.6 334.0,215.3 333.3,216.0 332.7,216.8 332.0,217.5 331.4,218.2 330.8,219.0 330.2,219.7 329.6,220.5 329.0,221.3 328.4,222.1 327.8,222.9 327.3,223.7 326.7,224.5 326.2,225.4 325.7,226.2 325.2,227.1 324.6,227.9 324.1,228.8 323.6,229.7 323.1,230.5 322.6,231.4 322.2,232.3 321.7,233.2 321.2,234.1 320.7,235.0 320.3,235.9 319.8,236.9 319.4,237.8 318.9,238.7 318.5,239.6 318.0,240.6 317.6,241.5 317.1,242.4 316.7,243.4 316.2,244.3 315.8,245.3 315.4,246.2 314.9,247.2 314.5,248.1 314.0,249.0 313.6,250.0 313.2,250.9 312.7,251.9 312.3,252.8 311.8,253.8 311.4,254.7 310.9,255.6 310.5,256.6 310.0,257.5 309.5,258.4 309.1,259.3 308.6,260.3 308.1,261.2 307.6,262.1 307.1,263.0 306.6,263.9 306.1,264.8 305.6,265.6 305.1,266.5 304.5,267.4 304.0,268.2 303.4,269.1 302.9,269.9 302.3,270.7 301.7,271.6 301.1,272.4 300.5,273.2 299.8,273.9 299.2,274.7 298.5,275.4 297.8,276.2 297.1,276.9 296.4,277.6 295.7,278.3 295.0,278.9 294.2,279.6 293.4,280.2 292.6,280.8 291.8,281.3 291.0,281.9 290.2,282.4 289.3,282.8 288.5,283.3 287.6,283.7 286.7,284.1 285.8,284.5 284.9,284.8 283.9,285.1 283.0,285.4 282.1,285.7 281.1,285.9 280.1,286.1 279.2,286.2 278.2,286.3 277.2,286.4 276.3,286.5 275.3,286.5 274.3,286.5 273.3,286.4 272.3,286.4 271.4,286.3 270.4,286.2 269.4,286.0 268.4,285.9 267.4,285.7 266.4,285.5 265.5,285.3 264.5,285.1 263.5,284.9 262.6,284.7 261.6,284.4 260.6,284.2 259.7,283.9 258.7,283.7 257.8,283.4 256.8,283.1 255.8,282.9 254.9,282.6 254.0,282.3 253.0,282.0 252.1,281.7 251.1,281.4 250.2,281.1 249.3,280.8 248.3,280.5 247.4,280.2 246.5,279.9 245.5,279.6 244.6,279.3 243.7,279.0 242.7,278.6 241.8,278.3 240.9,278.0 240.0,277.7 239.0,277.4 238.1,277.1 237.2,276.8 236.3,276.4 235.3,276.1 234.4,275.8 233.5,275.5 232.5,275.2 231.6,274.9 230.7,274.6 229.7,274.3 228.8,274.0 227.9,273.7 226.9,273.4 226.0,273.2 225.0,272.9 224.1,272.6 223.1,272.3 222.2,272.0 221.3,271.7 220.3,271.5 219.4,271.2 218.4,270.9 217.5,270.7 216.5,270.4 215.6,270.1 214.6,269.9 213.6,269.6 212.7,269.4 211.7,269.1 210.8,268.9 209.8,268.6 208.8,268.4 207.9,268.2 206.9,267.9 206.0,267.7 205.0,267.5 204.0,267.2 203.0,267.0 202.1,266.8 201.1,266.6 200.1,266.4 199.2,266.2 198.2,266.0 197.2,265.8 196.2,265.6 195.3,265.4 194.3,265.2 193.3,265.0 192.3,264.8 191.3,264.6 190.4,264.4 189.4,264.2 188.4,264.0 187.4,263.8 186.4,263.6 185.4,263.5 184.5,263.3 183.5,263.1 182.5,262.9 181.5,262.7 180.5,262.6 179.5,262.4 178.5,262.2 177.6,262.0 176.6,261.9 175.6,261.7 174.6,261.5 173.6,261.4 172.6,261.2 171.6,261.0 170.6,260.9 169.7,260.7 168.7,260.5 167.7,260.4 166.7,260.2 165.7,260.1 164.7,259.9 163.7,259.7 162.7,259.6 161.7,259.4 160.7,259.3 159.8,259.1 158.8,259.0 157.8,258.8 156.8,258.7 155.8,258.5 154.8,258.4 153.8,258.3 152.8,258.1 151.8,258.0 150.8,257.8 149.8,257.7 148.8,257.6 147.9,257.4 146.9,257.3 145.9,257.2 144.9,257.0 143.9,256.9 142.9,256.8 141.9,256.7 140.9,256.6 139.9,256.4 138.9,256.3 137.9,256.2 136.9,256.1 135.9,256.0 134.9,255.9 133.9,255.8 132.9,255.6 131.9,255.5 130.9,255.4 130.0,255.3 129.0,255.2 128.0,255.1 127.0,255.0 126.0,254.9 125.0,254.8 124.0,254.7 123.0,254.6 122.0,254.5 121.0,254.4 120.0,254.3 119.0,254.2 118.0,254.1 117.0,254.0" stroke="#00ff00" stroke-width="4.0" fill="none" stroke-linejoin="round" stroke-linecap="round"/>
<path d="M113.2,268.9 114.2,268.7 115.1,268.4 116.1,268.2 117.1,268.0 118.1,267.7 119.0,267.5 120.0,267.3 121.0,267.0 122.0,266.8 122.9,266.6 123.9,266.3 124.9,266.1 125.9,265.9 126.8,265.6 127.8,265.4 128.8,265.2 129.7,264.9 130.7,264.7 131.7,264.5 132.7,264.3 133.6,264.0 134.6,263.8 135.6,263.6 136.6,263.4 137.5,263.1 138.5,262.9 139.5,262.7 140.5,262.5 141.4,262.2 142.4,262.0 143.4,261.8 144.4,261.6 145.4,261.4 146.3,261.2 147.3,261.0 148.3,260.8 149.3,260.5 150.3,260.3 151.2,260.1 152.2,259.9 153.2,259.7 154.2,259.5 155.1,259.3 156.1,259.1 157.1,258.9 158.1,258.7 159.1,258.5 160.0,258.3 161.0,258.1 162.0,257.9 163.0,257.7 164.0,257.5 165.0,257.3 165.9,257.1 166.9,256.9 167.9,256.7 168.9,256.5 169.9,256.3 170.8,256.1 171.8,256.0 172.8,255.8 173.8,255.6 174.8,255.4 175.8,255.2 176.7,255.0 177.7,254.8 178.7,254.6 179.7,254.4 180.7,254.2 181.7,254.1 182.6,253.9 183.6,253.7 184.6,253.5 185.6,253.3 186.6,253.1 187.6,252.9 188.5,252.7 189.5,252.6 190.5,252.4 191.5,252.2 192.5,252.0 193.5,251.8 194.4,251.6 195.4,251.4 196.4,251.3 197.4,251.1 198.4,250.9 199.4,250.7 200.3,250.5 201.3,250.3 202.3,250.1 203.3,250.0 204.3,249.8 205.3,249.6 206.2,249.4 207.2,249.2 208.2,249.0 209.2,248.9 210.2,248.7 211.2,248.5 212.1,248.3 213.1,248.1 214.1,247.9 215.1,247.8 216.1,247.6 217.1,247.4 218.0,247.2 219.0,247.1 220.0,246.9 221.0,246.7 222.0,246.5 223.0,246.3 223.9,246.2 224.9,246.0 225.9,245.8 226.9,245.6 227.9,245.5 228.9,245.3 229.8,245.1 230.8,244.9 231.8,244.7 232.8,244.5 233.8,244.4 234.7,244.2 235.7,244.0 236.7,243.8 237.7,243.6 238.6,243.4 239.6,243.2 240.6,243.0 241.6,242.8 242.5,242.6 243.5,242.4 244.5,242.2 245.5,241.9 246.4,241.7 247.4,241.5 248.4,241.2 249.3,241.0 250.3,240.7 251.3,240.5 252.2,240.2 253.2,240.0 254.2,239.7 255.1,239.4 256.1,239.1 257.0,238.8 258.0,238.5 258.9,238.2 259.9,237.9 260.8,237.6 261.8,237.3 262.7,236.9 263.6,236.6 264.6,236.2 265.5,235.9 266.4,235.5 267.4,235.1 268.3,234.7 269.2,234.3 270.1,233.9 271.0,233.5 272.0,233.1 272.9,232.6 273.8,232.2 274.7,231.8 275.6,231.3 276.5,230.9 277.4,230.4 278.3,229.9 279.2,229.5 280.1,229.0 280.9,228.5 281.8,228.0 282.7,227.5 283.5,227.0 284.4,226.5 285.2,225.9 286.0,225.4 286.8,224.8 287.6,224.2 288.4,223.6 289.1,223.0 289.9,222.3 290.6,221.7 291.2,221.0 291.9,220.3 292.5,219.6 293.2,218.8 293.7,218.1 294.3,217.3 294.9,216.5 295.4,215.7 295.9,214.8 296.4,214.0 296.9,213.1 297.4,212.3 297.9,211.4 298.3,210.5 298.8,209.6 299.2,208.7 299.6,207.8 300.1,206.9 300.5,206.0 300.9,205.1 301.4,204.2 301.8,203.3 302.2,202.4 302.7,201.5 303.1,200.6 303.6,199.7 304.0,198.8 304.5,197.9 305.0,197.1 305.5,196.2 306.0,195.4 306.6,194.5 307.1,193.7 307.6,192.9 308.2,192.1 308.8,191.3 309.3,190.5 309.9,189.7 310.5,188.9 311.1,188.2 311.7,187.4 312.2,186.6 312.8,185.8 313.4,185.0 314.0,184.2 314.5,183.4 315.1,182.6 315.6,181.8 316.2,181.0 316.7,180.1 317.3,179.3 317.8,178.5 318.3,177.6 318.8,176.8 319.4,176.0 319.9,175.1 320.4,174.3 320.9,173.4 321.3,172.5 321.8,171.7 322.3,170.8 322.8,169.9 323.2,169.0 323.7,168.1 324.1,167.2 324.5,166.3 324.9,165.4 325.4,164.5 325.8,163.6 326.1,162.6 326.5,161.7 326.9,160.8 327.3,159.8 327.6,158.9 328.0,157.9 328.3,156.9 328.6,156.0 329.0,155.0 329.3,154.0 329.6,153.1 330.0,152.1 330.3,151.1 330.6,150.2 331.0,149.2 331.3,148.2 331.7,147.3 332.0,146.3 332.4,145.4 332.8,144.4 333.2,143.5 333.6,142.6 334.0,141.7 334.5,140.8 334.9,139.9 335.4,139.0 335.9,138.1 336.4,137.3 337.0,136.4 337.5,135.6 338.1,134.8 338.7,134.1 339.3,133.3 340.0,132.6 340.6,131.9 341.3,131.2 342.1,130.6 342.8,130.0 343.6,129.4 344.3,128.9 345.2,128.5 346.0,128.0 346.8,127.6 347.7,127.3 348.6,126.9 349.5,126.7 350.4,126.4 351.3,126.2 352.2,126.1 353.2,126.0 354.1,125.9 355.0,125.9 356.0,126.0 356.9,126.0 357.9,126.2 358.8,126.3 359.8,126.5 360.7,126.7 361.7,127.0 362.6,127.3 363.6,127.6 364.5,128.0 365.4,128.3 366.4,128.7 367.3,129.1 368.2,129.6 369.2,130.0 370.1,130.4 371.0,130.9 371.9,131.4 372.8,131.8 373.7,132.3 374.6,132.8 375.5,133.3 376.4,133.8 377.3,134.3 378.2,134.8 379.1,135.3 379.9,135.9 380.8,136.4 381.7,136.9 382.6,137.4 383.5,137.9 384.3,138.4 385.2,139.0 386.1,139.5 387.0,140.0 387.8,140.5 388.7,141.0 389.6,141.5 390.5,142.0 391.3,142.5 392.2,143.0 393.1,143.5 393.9,144.0 394.8,144.5 395.7,145.0 396.6,145.5 397.5,145.9 398.3,146.4 399.2,146.9 400.1,147.4 401.0,147.8 401.9,148.3 402.7,148.8 403.6,149.2 404.5,149.7 405.4,150.2 406.3,150.6 407.2,151.1 408.1,151.5 409.0,152.0 409.9,152.4 410.8,152.9 411.7,153.3 412.6,153.7 413.5,154.2 414.4,154.6 415.3,155.0 416.2,155.5 417.1,155.9 418.0,156.3 418.9,156.7 419.8,157.1 420.7,157.5 421.7,158.0 422.6,158.4 423.5,158.8 424.4,159.1 425.3,159.5 426.2,159.9 427.2,160.3 428.1,160.7 429.0,161.0 429.9,161.4 430.9,161.7 431.8,162.1 432.7,162.4 433.7,162.7 434.6,163.1 435.5,163.4 436.5,163.7 437.4,164.0 438.3,164.3 439.3,164.6 440.2,164.9 441.2,165.1 442.1,165.4 443.1,165.7 444.0,165.9 445.0,166.2 445.9,166.4 446.9,166.6 447.8,166.9 448.8,167.1 449.7,167.3 450.7,167.5 451.6,167.7 452.6,167.9 453.6,168.0 454.5,168.2 455.5,168.4 456.5,168.6 457.4,168.8 458.4,168.9 459.4,169.1 460.3,169.3 461.3,169.4 462.3,169.6 463.3,169.7 464.2,169.9 465.2,170.1 466.2,170.2 467.2,170.4 468.1,170.5 469.1,170.7 470.1,170.9 471.1,171.0 472.0,171.2 473.0,171.3 474.0,171.5 475.0,171.7 476.0,171.8 476.9,172.0 477.9,172.1 478.9,172.3 479.9,172.5 480.9,172.6 481.8,172.8 482.8,173.0 483.8,173.1 484.8,173.3 485.8,173.4 486.7,173.6 487.7,173.8 488.7,173.9 489.7,174.1 490.7,174.3 491.7,174.4 492.6,174.6 493.6,174.8 494.6,174.9 495.6,175.1 496.6,175.3 497.6,175.5 498.5,175.6 499.5,175.8 500.5,176.0 501.5,176.1 502.5,176.3 503.5,176.5 504.5,176.6 505.5,176.8 506.4,177.0 507.4,177.2 508.4,177.3 509.4,177.5 510.4,177.7 511.4,177.8 512.4,178.0 513.4,178.2 514.3,178.4 515.3,178.5 516.3,178.7 517.3,178.9 518.3,179.1 519.3,179.2 520.3,179.4 521.3,179.6 522.3,179.8 523.2,179.9 524.2,180.1 525.2,180.3 526.2,180.5 527.2,180.6 528.2,180.8 529.2,181.0 530.2,181.2 531.2,181.3 532.2,181.5 533.1,181.7 534.1,181.9 535.1,182.0 536.1,182.2 537.1,182.4 538.1,182.6 539.1,182.7 540.1,182.9 541.1,183.1 542.1,183.3 543.1,183.4 544.0,183.6 545.0,183.8 546.0,184.0 547.0,184.1 548.0,184.3 549.0,184.5 548.0,184.7 547.0,184.9 546.0,185.0 545.1,185.2 544.1,185.4 543.1,185.6 542.1,185.8 541.1,185.9 540.1,186.1 539.1,186.3 538.2,186.5 537.2,186.6 536.2,186.8 535.2,187.0 534.2,187.2 533.2,187.3 532.2,187.5 531.3,187.7 530.3,187.9 529.3,188.0 528.3,188.2 527.3,188.4 526.3,188.5 525.3,188.7 524.3,188.8 523.4,189.0 522.4,189.2 521.4,189.3 520.4,189.5 519.4,189.6 518.4,189.8 517.4,189.9 516.4,190.1 515.4,190.2 514.4,190.4 513.5,190.5 512.5,190.6 511.5,190.8 510.5,190.9 509.5,191.1 508.5,191.2 507.5,191.3 506.5,191.4 505.5,191.6 504.5,191.7 503.5,191.8 502.5,191.9 501.5,192.0 500.6,192.1 499.6,192.2 498.6,192.3 497.6,192.4 496.6,192.5 495.6,192.6 494.6,192.7 493.6,192.8 492.6,192.9 491.6,193.0 490.6,193.1 489.6,193.2 488.6,193.2 487.6,193.3 486.6,193.4 485.6,193.5 484.6,193.5 483.6,193.6 482.6,193.7 481.6,193.7 480.6,193.8 479.6,193.8 478.6,193.9 477.6,194.0 476.6,194.0 475.6,194.1 474.6,194.1 473.6,194.2 472.6,194.2 471.6,194.3 470.6,194.3 469.6,194.3 468.6,194.4 467.6,194.4 466.6,194.4 465.6,194.5 464.6,194.5 463.6,194.5 462.6,194.6 461.6,194.6 460.6,194.6 459.6,194.7 458.6,194.7 457.6,194.7 456.6,194.8 455.6,194.8 454.6,194.8 453.6,194.9 452.6,194.9 451.6,195.0 450.7,195.0 449.7,195.0 448.7,195.1 447.7,195.1 446.7,195.2 445.7,195.2 444.7,195.3 443.7,195.4 442.7,195.4 441.7,195.5 440.7,195.6 439.7,195.6 438.7,195.7 437.7,195.8 436.7,195.9 435.7,196.0 434.7,196.1 433.7,196.2 432.7,196.3 431.7,196.4 430.7,196.5 429.7,196.6 428.7,196.7 427.8,196.8 426.8,196.9 425.8,197.0 424.8,197.1 423.8,197.2 422.8,197.2 421.8,197.3 420.8,197.4 419.8,197.5 418.8,197.6 417.8,197.7 416.8,197.7 415.8,197.8 414.8,197.9 413.8,197.9 412.8,198.0 411.8,198.1 410.8,198.1 409.8,198.2 408.8,198.3 407.8,198.3 406.8,198.4 405.8,198.4 404.8,198.5 403.8,198.5 402.8,198.6 401.8,198.7 400.7,198.7 399.7,198.8 398.7,198.9 397.7,198.9 396.7,199.0 395.7,199.1 394.7,199.2 393.7,199.2 392.7,199.3 391.7,199.4 390.7,199.5 389.7,199.6 388.7,199.7 387.8,199.8 386.8,199.9 385.8,200.0 384.8,200.2 383.8,200.3 382.8,200.4 381.8,200.6 380.8,200.7 379.8,200.9 378.8,201.0 377.8,201.2 376.8,201.4 375.9,201.6 374.9,201.8 373.9,202.0 372.9,202.2 371.9,202.4 371.0,202.7 370.0,202.9 369.0,203.2 368.1,203.4 367.1,203.7 366.1,204.0 365.2,204.3 364.2,204.6 363.3,205.0 362.4,205.3 361.4,205.7 360.5,206.0 359.6,206.4 358.7,206.8 357.7,207.2 356.8,207.6 356.0,208.1 355.1,208.5 354.2,209.0 353.3,209.5 352.5,210.0 351.6,210.5 350.8,211.1 349.9,211.6 349.1,212.2 348.3,212.7 347.5,213.3 346.7,213.9 345.9,214.6 345.1,215.2 344.3,215.8 343.6,216.5 342.8,217.2 342.1,217.9 341.4,218.6 340.6,219.3 339.9,220.0 339.2,220.8 338.6,221.6 337.9,222.3 337.3,223.1 336.6,223.9 336.0,224.7 335.4,225.6 334.8,226.4 334.2,227.3 333.6,228.1 333.0,229.0 332.4,229.9 331.9,230.7 331.3,231.6 330.8,232.5 330.2,233.4 329.7,234.3 329.2,235.2 328.7,236.1 328.2,237.0 327.7,237.9 327.2,238.8 326.7,239.8 326.2,240.7 325.8,241.6 325.3,242.5 324.8,243.4 324.4,244.3 323.9,245.2 323.5,246.1 323.0,246.9 322.6,247.8 322.1,248.7 321.7,249.6 321.3,250.4 320.8,251.3 320.4,252.1 320.0,252.9 319.5,253.7 319.1,254.5 318.7,255.3 318.3,256.1 317.8,256.8 317.4,257.6 317.0,258.3 316.5,259.0 316.1,259.7 315.7,260.4 315.2,261.0 314.8,261.7 314.4,262.3 314.0,263.0 313.6,263.6 313.2,264.3 312.8,265.0 312.4,265.7 312.0,266.4 311.7,267.1 311.3,267.9 310.9,268.6 310.6,269.4 310.2,270.2 309.8,271.0 309.4,271.8 309.0,272.6 308.6,273.4 308.2,274.3 307.8,275.1 307.3,276.0 306.9,276.9 306.4,277.7 306.0,278.6 305.5,279.5 305.1,280.4 304.6,281.2 304.1,282.1 303.6,283.0 303.1,283.9 302.6,284.8 302.1,285.7 301.6,286.6 301.0,287.4 300.5,288.3 300.0,289.2 299.4,290.0 298.8,290.9 298.2,291.8 297.7,292.6 297.1,293.4 296.5,294.3 295.8,295.1 295.2,295.9 294.6,296.7 293.9,297.4 293.2,298.2 292.5,298.9 291.8,299.6 291.1,300.3 290.4,301.0 289.6,301.6 288.9,302.2 288.1,302.8 287.3,303.3 286.5,303.8 285.7,304.3 284.8,304.8 283.9,305.2 283.1,305.5 282.2,305.9 281.2,306.2 280.3,306.5 279.4,306.7 278.5,306.9 277.5,307.1 276.5,307.2 275.6,307.3 274.6,307.4 273.6,307.4 272.7,307.4 271.7,307.4 270.7,307.4 269.7,307.3 268.7,307.2 267.7,307.1 266.8,307.0 265.8,306.8 264.8,306.6 263.8,306.5 262.8,306.3 261.9,306.1 260.9,305.8 259.9,305.6 258.9,305.4 258.0,305.1 257.0,304.9 256.1,304.6 255.1,304.4 254.1,304.1 253.2,303.8 252.2,303.5 251.3,303.3 250.3,303.0 249.4,302.7 248.5,302.4 247.5,302.1 246.6,301.8 245.6,301.6 244.7,301.3 243.8,301.0 242.9,300.7 241.9,300.4 241.0,300.1 240.1,299.8 239.2,299.5 238.3,299.2 237.4,298.9 236.5,298.6 235.5,298.3 234.6,298.0 233.7,297.6 232.9,297.3 232.0,297.0 231.1,296.7 230.2,296.3 229.3,296.0 228.4,295.7 227.5,295.3 226.6,295.0 225.7,294.6 224.8,294.3 224.0,294.0 223.1,293.6 222.2,293.3 221.3,292.9 220.4,292.6 219.5,292.3 218.6,291.9 217.7,291.6 216.9,291.2 216.0,290.9 215.1,290.5 214.2,290.2 213.3,289.8 212.4,289.4 211.5,289.1 210.6,288.7 209.8,288.4 208.9,288.0 208.0,287.6 207.1,287.3 206.2,286.9 205.3,286.6 204.4,286.2 203.5,285.9 202.6,285.6 201.7,285.3 200.8,284.9 199.9,284.6 199.0,284.3 198.1,284.0 197.2,283.7 196.3,283.4 195.3,283.2 194.4,282.9 193.5,282.6 192.6,282.3 191.6,282.0 190.7,281.8 189.8,281.5 188.8,281.2 187.9,280.9 187.0,280.7 186.0,280.4 185.1,280.1 184.1,279.9 183.2,279.6 182.2,279.3 181.3,279.1 180.4,278.8 179.4,278.5 178.4,278.3 177.5,278.0 176.5,277.8 175.6,277.5 174.6,277.3 173.6,277.1 172.7,276.8 171.7,276.6 170.7,276.4 169.8,276.1 168.8,275.9 167.8,275.7 166.9,275.5 165.9,275.3 164.9,275.1 163.9,274.9 162.9,274.7 162.0,274.5 161.0,274.3 160.0,274.1 159.0,273.9 158.0,273.7 157.0,273.6 156.1,273.4 155.1,273.2 154.1,273.1 153.1,272.9 152.1,272.8 151.1,272.6 150.1,272.5 149.1,272.3 148.1,272.2 147.1,272.1 146.1,271.9 145.1,271.8 144.2,271.7 143.2,271.5 142.2,271.4 141.2,271.3 140.2,271.2 139.2,271.1 138.2,271.0 137.2,270.9 136.2,270.8 135.2,270.7 134.2,270.6 133.2,270.5 132.2,270.4 131.2,270.3 130.2,270.2 129.2,270.1 128.2,270.0 127.2,270.0 126.2,269.9 125.2,269.8 124.2,269.7 123.2,269.6 122.2,269.6 121.2,269.5 120.2,269.4 119.2,269.3 118.2,269.3 117.2,269.2 116.2,269.1 115.2,269.0 114.2,269.0 113.2,268.9" stroke="#ff8000" stroke-width="4.0" fill="none" stroke-linejoin="round" stroke-linecap="round"/>
<path d="M110.6,284.2 111.6,283.9 112.5,283.6 113.5,283.3 114.4,283.0 115.4,282.7 116.3,282.4 117.3,282.1 118.3,281.8 119.2,281.5 120.2,281.2 121.1,280.9 122.1,280.7 123.1,280.4 124.0,280.1 125.0,279.8 125.9,279.5 126.9,279.2 127.9,278.9 128.8,278.6 129.8,278.3 130.7,278.0 131.7,277.7 132.7,277.5 133.6,277.2 134.6,276.9 135.5,276.6 136.5,276.3 137.5,276.0 138.4,275.8 139.4,275.5 140.4,275.2 141.3,274.9 142.3,274.6 143.2,274.4 144.2,274.1 145.2,273.8 146.1,273.5 147.1,273.3 148.1,273.0 149.0,272.7 150.0,272.5 151.0,272.2 152.0,271.9 152.9,271.7 153.9,271.4 154.9,271.2 155.8,270.9 156.8,270.7 157.8,270.4 158.7,270.2 159.7,269.9 160.7,269.7 161.7,269.4 162.6,269.2 163.6,268.9 164.6,268.7 165.5,268.5 166.5,268.2 167.5,268.0 168.5,267.8 169.4,267.6 170.4,267.4 171.4,267.1 172.3,266.9 173.3,266.7 174.3,266.5 175.3,266.3 176.2,266.1 177.2,265.9 178.2,265.7 179.1,265.5 180.1,265.3 181.1,265.2 182.0,265.0 183.0,264.8 184.0,264.6 184.9,264.5 185.9,264.3 186.9,264.1 187.8,264.0 188.8,263.8 189.8,263.6 190.7,263.5 191.7,263.3 192.6,263.2 193.6,263.0 194.5,262.9 195.5,262.7 196.4,262.5 197.4,262.4 198.3,262.2 199.3,262.0 200.3,261.9 201.2,261.7 202.2,261.6 203.1,261.4 204.1,261.3 205.0,261.1 206.0,260.9 206.9,260.8 207.9,260.6 208.8,260.5 209.8,260.3 210.8,260.2 211.7,260.0 212.7,259.8 213.6,259.7 214.6,259.5 215.5,259.3 216.5,259.1 217.4,258.9 218.4,258.7 219.3,258.5 220.3,258.3 221.3,258.1 222.2,257.9 223.2,257.7 224.1,257.4 225.1,257.2 226.0,257.0 227.0,256.7 227.9,256.5 228.9,256.2 229.8,256.0 230.8,255.7 231.7,255.5 232.7,255.2 233.6,254.9 234.6,254.7 235.5,254.4 236.5,254.1 237.4,253.8 238.4,253.6 239.3,253.3 240.3,253.0 241.2,252.7 242.2,252.5 243.1,252.2 244.1,251.9 245.0,251.6 246.0,251.3 246.9,251.0 247.9,250.7 248.8,250.4 249.8,250.1 250.7,249.8 251.7,249.5 252.6,249.2 253.6,248.9 254.5,248.5 255.4,248.2 256.4,247.8 257.3,247.5 258.2,247.1 259.1,246.7 260.1,246.4 261.0,246.0 261.9,245.6 262.8,245.2 263.7,244.8 264.6,244.3 265.5,243.9 266.4,243.5 267.3,243.0 268.2,242.5 269.1,242.1 269.9,241.6 270.8,241.1 271.7,240.6 272.6,240.2 273.4,239.7 274.3,239.2 275.2,238.7 276.0,238.2 276.9,237.7 277.8,237.2 278.6,236.6 279.5,236.1 280.3,235.6 281.2,235.1 282.0,234.5 282.8,233.9 283.6,233.4 284.4,232.8 285.2,232.2 286.0,231.6 286.8,231.0 287.5,230.3 288.3,229.7 289.0,229.0 289.7,228.4 290.4,227.7 291.1,227.0 291.8,226.3 292.4,225.5 293.1,224.8 293.7,224.0 294.3,223.3 294.9,222.5 295.5,221.7 296.0,220.9 296.6,220.0 297.1,219.2 297.6,218.4 298.0,217.5 298.5,216.6 298.9,215.7 299.4,214.9 299.8,214.0 300.2,213.1 300.6,212.1 301.0,211.2 301.4,210.3 301.8,209.4 302.2,208.5 302.5,207.6 302.9,206.7 303.3,205.7 303.7,204.8 304.1,203.9 304.5,203.0 304.9,202.2 305.3,201.3 305.7,200.4 306.2,199.5 306.6,198.7 307.1,197.9 307.5,197.0 308.0,196.2 308.5,195.4 309.0,194.6 309.5,193.8 310.0,193.0 310.5,192.2 311.0,191.4 311.5,190.6 312.0,189.8 312.5,189.0 313.0,188.2 313.5,187.4 314.0,186.5 314.5,185.7 314.9,184.9 315.4,184.1 315.9,183.2 316.4,182.4 316.8,181.6 317.3,180.7 317.8,179.9 318.2,179.0 318.7,178.1 319.1,177.3 319.5,176.4 320.0,175.5 320.4,174.6 320.8,173.7 321.2,172.8 321.6,171.9 322.0,171.0 322.3,170.1 322.7,169.2 323.0,168.3 323.4,167.3 323.7,166.4 324.0,165.5 324.3,164.5 324.6,163.6 324.9,162.6 325.2,161.7 325.5,160.7 325.7,159.7 326.0,158.7 326.2,157.8 326.5,156.8 326.7,155.8 326.9,154.8 327.1,153.8 327.4,152.9 327.6,151.9 327.8,150.9 328.1,149.9 328.3,148.9 328.6,147.9 328.8,146.9 329.1,145.9 329.3,145.0 329.6,144.0 329.9,143.0 330.2,142.0 330.5,141.1 330.9,140.1 331.2,139.1 331.6,138.2 332.0,137.2 332.4,136.3 332.8,135.4 333.2,134.5 333.7,133.6 334.2,132.7 334.6,131.8 335.2,130.9 335.7,130.1 336.3,129.3 336.8,128.5 337.4,127.7 338.1,126.9 338.7,126.1 339.4,125.4 340.1,124.7 340.8,124.0 341.5,123.4 342.3,122.7 343.1,122.1 343.9,121.6 344.7,121.1 345.5,120.6 346.4,120.1 347.2,119.7 348.1,119.3 349.0,118.9 349.9,118.6 350.8,118.4 351.8,118.1 352.7,118.0 353.6,117.8 354.6,117.7 355.5,117.7 356.5,117.7 357.4,117.7 358.3,117.8 359.3,118.0 360.2,118.1 361.2,118.3 362.1,118.6 363.0,118.9 364.0,119.2 364.9,119.5 365.8,119.9 366.7,120.3 367.6,120.8 368.5,121.3 369.4,121.7 370.2,122.3 371.1,122.8 371.9,123.4 372.8,123.9 373.6,124.5 374.4,125.1 375.2,125.7 376.0,126.3 376.8,127.0 377.6,127.6 378.4,128.2 379.3,128.8 380.1,129.4 380.9,130.0 381.7,130.6 382.5,131.2 383.3,131.8 384.2,132.3 385.0,132.9 385.9,133.4 386.7,134.0 387.6,134.5 388.4,135.0 389.3,135.6 390.1,136.1 391.0,136.6 391.8,137.1 392.7,137.6 393.6,138.1 394.4,138.6 395.3,139.1 396.2,139.6 397.1,140.1 397.9,140.6 398.8,141.1 399.7,141.6 400.6,142.1 401.4,142.5 402.3,143.0 403.2,143.5 404.1,144.0 405.0,144.5 405.8,144.9 406.7,145.4 407.6,145.9 408.5,146.4 409.4,146.8 410.3,147.3 411.1,147.8 412.0,148.2 412.9,148.7 413.8,149.1 414.7,149.6 415.6,150.0 416.5,150.5 417.4,150.9 418.3,151.4 419.2,151.8 420.1,152.3 421.0,152.7 421.9,153.1 422.8,153.6 423.7,154.0 424.6,154.4 425.5,154.9 426.4,155.3 427.3,155.7 428.2,156.1 429.1,156.5 430.1,156.9 431.0,157.3 431.9,157.7 432.8,158.1 433.7,158.5 434.7,158.9 435.6,159.3 436.5,159.7 437.4,160.0 438.4,160.4 439.3,160.8 440.2,161.1 441.2,161.5 442.1,161.9 443.0,162.2 444.0,162.6 444.9,162.9 445.8,163.3 446.8,163.6 447.7,164.0 448.7,164.3 449.6,164.7 450.6,165.0 451.5,165.3 452.4,165.7 453.4,166.0 454.3,166.3 455.3,166.7 456.2,167.0 457.2,167.3 458.1,167.6 459.1,168.0 460.0,168.3 461.0,168.6 461.9,168.9 462.9,169.2 463.8,169.5 464.8,169.8 465.7,170.1 466.7,170.4 467.6,170.7 468.6,171.0 469.6,171.3 470.5,171.5 471.5,171.8 472.4,172.1 473.4,172.3 474.4,172.6 475.3,172.9 476.3,173.1 477.3,173.3 478.2,173.6 479.2,173.8 480.2,174.0 481.2,174.2 482.1,174.4 483.1,174.7 484.1,174.8 485.1,175.0 486.0,175.2 487.0,175.4 488.0,175.6 489.0,175.7 490.0,175.9 491.0,176.1 491.9,176.2 492.9,176.4 493.9,176.5 494.9,176.7 495.9,176.8 496.9,176.9 497.9,177.1 498.9,177.2 499.9,177.3 500.9,177.5 501.9,177.6 502.9,177.7 503.8,177.8 504.8,178.0 505.8,178.1 506.8,178.2 507.8,178.3 508.8,178.4 509.8,178.6 510.8,178.7 511.8,178.8 512.8,178.9 513.8,179.0 514.8,179.2 515.8,179.3 516.8,179.4 517.8,179.5 518.8,179.6 519.8,179.7 520.8,179.8 521.8,180.0 522.8,180.1 523.8,180.2 524.7,180.3 525.7,180.4 526.7,180.5 527.7,180.6 528.7,180.8 529.7,180.9 530.7,181.0 531.7,181.1 532.7,181.2 533.7,181.3 534.7,181.4 535.7,181.5 536.7,181.7 537.7,181.8 538.7,181.9 539.7,182.0 540.7,182.1 541.7,182.2 542.7,182.3 543.7,182.4 544.7,182.5 545.7,182.7 546.7,182.8 547.7,182.9 548.6,183.0 549.6,183.1 550.6,183.2 551.6,183.3 552.6,183.4 553.6,183.5 554.6,183.6 555.6,183.8 556.6,183.9 557.6,184.0 558.6,184.1 559.6,184.2 558.6,184.4 557.6,184.6 556.7,184.8 555.7,185.0 554.7,185.2 553.7,185.4 552.7,185.6 551.7,185.9 550.8,186.1 549.8,186.3 548.8,186.5 547.8,186.7 546.8,186.9 545.9,187.1 544.9,187.3 543.9,187.5 542.9,187.7 541.9,187.9 540.9,188.1 540.0,188.3 539.0,188.5 538.0,188.7 537.0,188.9 536.0,189.0 535.0,189.2 534.1,189.4 533.1,189.6 532.1,189.8 531.1,190.0 530.1,190.2 529.1,190.3 528.2,190.5 527.2,190.7 526.2,190.9 525.2,191.1 524.2,191.2 523.2,191.4 522.2,191.6 521.3,191.7 520.3,191.9 519.3,192.0 518.3,192.2 517.3,192.4 516.3,192.5 515.3,192.7 514.3,192.8 513.4,193.0 512.4,193.1 511.4,193.2 510.4,193.4 509.4,193.5 508.4,193.7 507.4,193.8 506.4,193.9 505.4,194.0 504.4,194.2 503.4,194.3 502.4,194.4 501.4,194.5 500.5,194.6 499.5,194.7 498.5,194.8 497.5,194.9 496.5,195.0 495.5,195.1 494.5,195.2 493.5,195.3 492.5,195.4 491.5,195.5 490.5,195.6 489.5,195.6 488.5,195.7 487.5,195.8 486.5,195.9 485.5,195.9 484.5,196.0 483.5,196.1 482.5,196.2 481.5,196.2 480.5,196.3 479.5,196.4 478.5,196.4 477.5,196.5 476.5,196.5 475.5,196.6 474.5,196.6 473.5,196.7 472.5,196.8 471.5,196.8 470.5,196.9 469.5,196.9 468.5,197.0 467.5,197.0 466.5,197.1 465.5,197.1 464.5,197.1 463.5,197.2 462.5,197.2 461.5,197.3 460.5,197.3 459.5,197.4 458.5,197.4 457.5,197.5 456.5,197.5 455.5,197.6 454.5,197.6 453.5,197.7 452.5,197.8 451.5,197.8 450.6,197.9 449.6,198.0 448.6,198.0 447.6,198.1 446.6,198.2 445.6,198.3 444.6,198.3 443.6,198.4 442.6,198.5 441.6,198.6 440.6,198.7 439.6,198.8 438.6,198.9 437.6,199.1 436.6,199.2 435.6,199.3 434.7,199.4 433.7,199.5 432.7,199.7 431.7,199.8 430.7,199.9 429.7,200.1 428.7,200.2 427.7,200.3 426.7,200.4 425.7,200.6 424.7,200.7 423.7,200.8 422.8,200.9 421.8,201.1 420.8,201.2 419.8,201.3 418.8,201.4 417.8,201.5 416.8,201.6 415.8,201.7 414.8,201.8 413.8,201.9 412.8,202.0 411.8,202.0 410.8,202.1 409.8,202.2 408.8,202.3 407.8,202.4 406.8,202.4 405.7,202.5 404.7,202.6 403.7,202.7 402.7,202.8 401.7,202.8 400.7,202.9 399.7,203.0 398.7,203.1 397.7,203.2 396.7,203.3 395.7,203.4 394.7,203.5 393.7,203.6 392.7,203.7 391.7,203.8 390.7,203.9 389.7,204.0 388.7,204.1 387.7,204.2 386.7,204.4 385.7,204.5 384.8,204.7 383.8,204.8 382.8,205.0 381.8,205.1 380.8,205.3 379.8,205.5 378.8,205.7 377.8,205.9 376.9,206.1 375.9,206.3 374.9,206.6 373.9,206.8 373.0,207.1 372.0,207.3 371.0,207.6 370.1,207.9 369.1,208.2 368.2,208.5 367.2,208.8 366.3,209.1 365.4,209.5 364.4,209.9 363.5,210.3 362.6,210.7 361.7,211.1 360.8,211.5 360.0,212.0 359.1,212.4 358.2,212.9 357.4,213.4 356.6,214.0 355.8,214.5 355.0,215.1 354.2,215.7 353.4,216.3 352.6,216.9 351.8,217.5 351.1,218.2 350.4,218.8 349.6,219.5 348.9,220.2 348.2,220.9 347.5,221.6 346.8,222.3 346.1,223.1 345.4,223.8 344.8,224.6 344.1,225.3 343.4,226.1 342.8,226.9 342.2,227.7 341.5,228.4 340.9,229.2 340.3,230.0 339.6,230.9 339.0,231.7 338.4,232.5 337.8,233.3 337.2,234.1 336.6,234.9 336.0,235.8 335.4,236.6 334.8,237.4 334.3,238.2 333.7,239.1 333.1,239.9 332.5,240.7 332.0,241.6 331.4,242.4 330.9,243.2 330.3,244.1 329.8,244.9 329.2,245.8 328.7,246.6 328.2,247.5 327.7,248.4 327.2,249.2 326.6,250.1 326.1,250.9 325.6,251.8 325.1,252.7 324.7,253.5 324.2,254.4 323.7,255.3 323.2,256.2 322.8,257.1 322.3,258.0 321.8,258.8 321.4,259.7 320.9,260.6 320.5,261.5 320.1,262.4 319.6,263.3 319.2,264.2 318.8,265.1 318.4,266.0 318.0,267.0 317.5,267.9 317.1,268.8 316.7,269.7 316.3,270.6 315.9,271.5 315.5,272.4 315.0,273.3 314.6,274.2 314.2,275.1 313.8,276.0 313.4,277.0 313.0,277.9 312.6,278.8 312.2,279.7 311.8,280.6 311.3,281.5 310.9,282.4 310.5,283.4 310.2,284.3 309.8,285.2 309.4,286.1 309.0,287.1 308.6,288.0 308.2,288.9 307.8,289.8 307.4,290.8 307.0,291.7 306.7,292.6 306.3,293.6 305.9,294.5 305.5,295.4 305.1,296.4 304.7,297.3 304.3,298.3 304.0,299.2 303.6,300.1 303.2,301.1 302.8,302.0 302.4,303.0 302.0,303.9 301.6,304.8 301.1,305.8 300.7,306.7 300.3,307.6 299.9,308.6 299.4,309.5 299.0,310.4 298.5,311.3 298.0,312.2 297.5,313.0 297.0,313.9 296.5,314.8 296.0,315.6 295.4,316.5 294.9,317.3 294.3,318.1 293.7,318.9 293.1,319.7 292.4,320.5 291.8,321.2 291.1,321.9 290.4,322.6 289.7,323.3 289.0,323.9 288.2,324.6 287.5,325.1 286.7,325.7 285.9,326.2 285.1,326.7 284.2,327.2 283.4,327.6 282.5,327.9 281.6,328.3 280.7,328.6 279.8,328.9 278.8,329.1 277.9,329.3 276.9,329.5 276.0,329.6 275.0,329.7 274.0,329.7 273.0,329.8 272.1,329.8 271.1,329.7 270.1,329.7 269.1,329.6 268.1,329.5 267.1,329.3 266.2,329.2 265.2,329.0 264.2,328.8 263.2,328.6 262.3,328.4 261.3,328.1 260.3,327.9 259.4,327.6 258.4,327.3 257.5,327.0 256.5,326.7 255.6,326.4 254.7,326.0 253.7,325.7 252.8,325.4 251.9,325.0 250.9,324.6 250.0,324.3 249.1,323.9 248.2,323.5 247.3,323.1 246.4,322.7 245.5,322.3 244.6,321.9 243.8,321.5 242.9,321.1 242.0,320.7 241.1,320.3 240.3,319.9 239.4,319.5 238.5,319.1 237.7,318.6 236.8,318.2 236.0,317.8 235.2,317.4 234.3,316.9 233.5,316.5 232.7,316.1 231.8,315.6 231.0,315.2 230.2,314.8 229.3,314.3 228.5,313.9 227.7,313.5 226.8,313.1 226.0,312.7 225.1,312.3 224.3,311.9 223.4,311.5 222.6,311.1 221.7,310.7 220.8,310.4 220.0,310.0 219.1,309.6 218.2,309.3 217.3,308.9 216.5,308.5 215.6,308.2 214.7,307.8 213.8,307.4 212.9,307.1 212.0,306.7 211.2,306.4 210.3,306.0 209.4,305.6 208.5,305.3 207.6,304.9 206.6,304.6 205.7,304.2 204.8,303.9 203.9,303.6 203.0,303.2 202.1,302.9 201.1,302.6 200.2,302.3 199.3,301.9 198.4,301.6 197.4,301.3 196.5,301.0 195.5,300.7 194.6,300.4 193.6,300.1 192.7,299.8 191.7,299.5 190.8,299.3 189.8,299.0 188.9,298.7 187.9,298.4 187.0,298.2 186.0,297.9 185.1,297.7 184.1,297.4 183.1,297.2 182.2,296.9 181.2,296.7 180.2,296.5 179.3,296.2 178.3,296.0 177.3,295.8 176.4,295.6 175.4,295.4 174.4,295.1 173.4,294.9 172.5,294.7 171.5,294.5 170.5,294.3 169.5,294.1 168.6,293.9 167.6,293.7 166.6,293.5 165.6,293.3 164.7,293.1 163.7,293.0 162.7,292.8 161.7,292.6 160.7,292.4 159.8,292.2 158.8,292.1 157.8,291.9 156.8,291.7 155.8,291.5 154.9,291.4 153.9,291.2 152.9,291.0 151.9,290.9 150.9,290.7 150.0,290.5 149.0,290.3 148.0,290.2 147.0,290.0 146.0,289.9 145.1,289.7 144.1,289.5 143.1,289.4 142.1,289.2 141.1,289.1 140.1,288.9 139.2,288.8 138.2,288.6 137.2,288.5 136.2,288.3 135.2,288.2 134.2,288.0 133.3,287.9 132.3,287.7 131.3,287.6 130.3,287.4 129.3,287.3 128.3,287.1 127.3,287.0 126.4,286.8 125.4,286.7 124.4,286.5 123.4,286.3 122.4,286.2 121.4,286.0 120.5,285.9 119.5,285.7 118.5,285.5 117.5,285.4 116.5,285.2 115.5,285.0 114.5,284.9 113.6,284.7 112.6,284.5 111.6,284.4 110.6,284.2" stroke="#0000ff" stroke-width="4.0" fill="none" stroke-linejoin="round" stroke-linecap="round"/>
<path d="M102.7,310.8 103.6,310.3 104.4,309.8 105.3,309.4 106.2,308.9 107.1,308.4 107.9,308.0 108.8,307.5 109.7,307.0 110.6,306.6 111.5,306.2 112.4,305.7 113.3,305.3 114.2,304.9 115.1,304.5 116.0,304.0 116.9,303.6 117.8,303.3 118.7,302.9 119.6,302.5 120.5,302.1 121.5,301.8 122.4,301.4 123.3,301.1 124.3,300.7 125.2,300.4 126.1,300.0 127.1,299.7 128.0,299.4 129.0,299.1 129.9,298.8 130.9,298.5 131.8,298.2 132.8,297.9 133.7,297.6 134.7,297.3 135.7,297.1 136.6,296.8 137.6,296.5 138.6,296.3 139.5,296.0 140.5,295.7 141.5,295.5 142.4,295.2 143.4,295.0 144.4,294.7 145.4,294.5 146.3,294.2 147.3,294.0 148.3,293.7 149.3,293.5 150.2,293.3 151.2,293.0 152.2,292.8 153.2,292.5 154.1,292.3 155.1,292.1 156.1,291.8 157.1,291.6 158.0,291.3 159.0,291.1 160.0,290.8 160.9,290.6 161.9,290.4 162.9,290.1 163.8,289.9 164.8,289.6 165.8,289.4 166.7,289.1 167.7,288.9 168.6,288.6 169.6,288.4 170.6,288.1 171.5,287.9 172.5,287.6 173.4,287.3 174.4,287.1 175.3,286.8 176.2,286.6 177.2,286.3 178.1,286.0 179.0,285.8 180.0,285.5 180.9,285.3 181.8,285.0 182.8,284.7 183.7,284.5 184.6,284.2 185.5,284.0 186.4,283.7 187.4,283.4 188.3,283.2 189.2,282.9 190.1,282.6 191.0,282.3 191.9,282.1 192.8,281.8 193.7,281.5 194.6,281.2 195.5,281.0 196.4,280.7 197.3,280.4 198.2,280.2 199.2,279.9 200.1,279.6 201.0,279.4 201.9,279.1 202.8,278.8 203.7,278.6 204.7,278.3 205.6,278.0 206.5,277.8 207.4,277.5 208.4,277.2 209.3,276.9 210.2,276.7 211.1,276.4 212.1,276.1 213.0,275.9 213.9,275.6 214.9,275.3 215.8,275.1 216.7,274.8 217.7,274.6 218.6,274.3 219.6,274.1 220.5,273.8 221.4,273.6 222.4,273.3 223.3,273.1 224.2,272.8 225.2,272.6 226.1,272.4 227.1,272.1 228.0,271.9 228.9,271.6 229.9,271.4 230.8,271.2 231.7,270.9 232.6,270.7 233.6,270.4 234.5,270.2 235.4,270.0 236.4,269.7 237.3,269.5 238.2,269.2 239.2,269.0 240.1,268.8 241.0,268.5 242.0,268.3 242.9,268.0 243.8,267.8 244.8,267.6 245.7,267.3 246.6,267.0 247.6,266.8 248.5,266.5 249.4,266.2 250.4,265.9 251.3,265.6 252.2,265.3 253.1,265.0 254.1,264.7 255.0,264.4 255.9,264.0 256.8,263.7 257.7,263.3 258.6,262.9 259.5,262.5 260.5,262.1 261.4,261.7 262.2,261.3 263.1,260.9 264.0,260.4 264.9,260.0 265.8,259.5 266.6,259.0 267.5,258.5 268.4,258.0 269.2,257.5 270.1,257.0 270.9,256.4 271.8,255.9 272.6,255.3 273.4,254.7 274.2,254.2 275.0,253.6 275.8,253.0 276.6,252.3 277.4,251.7 278.2,251.1 279.0,250.4 279.7,249.8 280.5,249.1 281.2,248.5 282.0,247.8 282.7,247.1 283.4,246.4 284.1,245.7 284.8,245.0 285.5,244.2 286.2,243.5 286.8,242.8 287.5,242.0 288.1,241.2 288.8,240.5 289.4,239.7 290.0,238.9 290.6,238.1 291.2,237.3 291.7,236.4 292.3,235.6 292.8,234.8 293.4,233.9 293.9,233.1 294.4,232.2 294.9,231.4 295.4,230.5 295.8,229.6 296.3,228.7 296.7,227.8 297.2,226.9 297.6,226.0 298.0,225.1 298.4,224.2 298.8,223.3 299.2,222.4 299.6,221.4 300.0,220.5 300.3,219.6 300.7,218.6 301.0,217.7 301.3,216.8 301.7,215.8 302.0,214.9 302.3,213.9 302.6,213.0 302.9,212.0 303.3,211.1 303.6,210.1 303.9,209.2 304.2,208.3 304.6,207.3 304.9,206.4 305.3,205.4 305.7,204.5 306.0,203.6 306.4,202.7 306.8,201.7 307.2,200.8 307.6,199.9 308.0,199.0 308.4,198.0 308.8,197.1 309.3,196.2 309.7,195.3 310.1,194.4 310.5,193.4 310.9,192.5 311.4,191.6 311.8,190.7 312.2,189.7 312.6,188.8 313.0,187.9 313.4,186.9 313.8,186.0 314.2,185.1 314.6,184.2 315.0,183.2 315.4,182.3 315.8,181.4 316.1,180.5 316.5,179.6 316.9,178.7 317.3,177.8 317.6,177.0 318.0,176.1 318.3,175.3 318.7,174.4 319.0,173.6 319.3,172.8 319.6,172.0 320.0,171.3 320.3,170.6 320.6,169.9 320.9,169.2 321.2,168.5 321.5,167.9 321.8,167.3 322.0,166.7 322.3,166.2 322.5,165.7 322.8,165.2 323.0,164.8 323.3,164.4 323.5,164.0 323.7,163.6 324.0,163.1 324.2,162.7 324.4,162.2 324.6,161.6 324.9,161.1 325.1,160.5 325.3,159.8 325.5,159.2 325.7,158.5 325.9,157.8 326.2,157.0 326.4,156.3 326.6,155.5 326.8,154.7 327.0,153.8 327.2,153.0 327.4,152.1 327.7,151.2 327.9,150.3 328.1,149.4 328.3,148.4 328.5,147.5 328.7,146.5 328.9,145.6 329.2,144.6 329.4,143.6 329.6,142.6 329.8,141.6 330.0,140.6 330.2,139.7 330.5,138.7 330.7,137.7 330.9,136.7 331.1,135.7 331.4,134.7 331.6,133.7 331.8,132.7 332.1,131.7 332.3,130.7 332.6,129.7 332.8,128.7 333.1,127.7 333.4,126.7 333.6,125.7 333.9,124.7 334.2,123.7 334.5,122.7 334.8,121.7 335.1,120.8 335.5,119.8 335.8,118.8 336.1,117.8 336.5,116.8 336.9,115.9 337.3,114.9 337.7,113.9 338.1,113.0 338.5,112.0 338.9,111.1 339.4,110.1 339.8,109.2 340.3,108.3 340.8,107.4 341.3,106.5 341.9,105.6 342.4,104.8 343.0,103.9 343.6,103.1 344.2,102.3 344.8,101.6 345.4,100.8 346.1,100.1 346.8,99.4 347.5,98.7 348.2,98.1 349.0,97.5 349.8,97.0 350.5,96.4 351.3,96.0 352.2,95.5 353.0,95.2 353.8,94.8 354.7,94.5 355.6,94.3 356.5,94.2 357.3,94.1 358.2,94.0 359.1,94.0 360.0,94.1 360.9,94.2 361.9,94.4 362.8,94.6 363.7,94.8 364.6,95.2 365.5,95.5 366.3,95.9 367.2,96.3 368.1,96.8 369.0,97.3 369.8,97.8 370.7,98.3 371.5,98.9 372.3,99.5 373.1,100.1 374.0,100.7 374.8,101.4 375.5,102.0 376.3,102.7 377.1,103.4 377.9,104.0 378.7,104.7 379.4,105.4 380.2,106.1 381.0,106.8 381.7,107.4 382.5,108.1 383.3,108.8 384.1,109.5 384.8,110.1 385.6,110.8 386.4,111.5 387.1,112.1 387.9,112.8 388.7,113.4 389.4,114.1 390.2,114.8 391.0,115.4 391.7,116.1 392.5,116.7 393.3,117.4 394.0,118.0 394.8,118.7 395.6,119.3 396.3,119.9 397.1,120.6 397.9,121.2 398.7,121.9 399.4,122.5 400.2,123.1 401.0,123.8 401.8,124.4 402.5,125.1 403.3,125.7 404.1,126.3 404.9,126.9 405.6,127.6 406.4,128.2 407.2,128.8 408.0,129.4 408.8,130.0 409.6,130.6 410.4,131.2 411.2,131.8 412.0,132.4 412.8,133.0 413.6,133.6 414.4,134.2 415.2,134.8 416.0,135.4 416.8,136.0 417.7,136.5 418.5,137.1 419.3,137.7 420.1,138.2 421.0,138.8 421.8,139.3 422.6,139.9 423.5,140.4 424.3,140.9 425.2,141.5 426.0,142.0 426.9,142.5 427.7,143.0 428.6,143.5 429.5,144.1 430.3,144.6 431.2,145.1 432.1,145.5 432.9,146.0 433.8,146.5 434.7,147.0 435.6,147.5 436.5,147.9 437.3,148.4 438.2,148.9 439.1,149.3 440.0,149.8 440.9,150.2 441.8,150.7 442.7,151.1 443.6,151.5 444.5,152.0 445.4,152.4 446.3,152.8 447.2,153.2 448.1,153.6 449.1,154.0 450.0,154.4 450.9,154.8 451.8,155.2 452.7,155.6 453.7,156.0 454.6,156.4 455.5,156.8 456.4,157.1 457.4,157.5 458.3,157.9 459.2,158.2 460.2,158.6 461.1,159.0 462.0,159.3 463.0,159.6 463.9,160.0 464.9,160.3 465.8,160.7 466.8,161.0 467.7,161.3 468.7,161.6 469.6,161.9 470.6,162.3 471.5,162.6 472.5,162.9 473.4,163.2 474.4,163.5 475.3,163.8 476.3,164.0 477.2,164.3 478.2,164.6 479.2,164.9 480.1,165.2 481.1,165.4 482.0,165.7 483.0,166.0 484.0,166.2 484.9,166.5 485.9,166.7 486.9,167.0 487.9,167.2 488.8,167.4 489.8,167.7 490.8,167.9 491.7,168.2 492.7,168.4 493.7,168.6 494.7,168.8 495.6,169.1 496.6,169.3 497.6,169.5 498.6,169.7 499.5,170.0 500.5,170.2 501.5,170.4 502.5,170.6 503.4,170.9 504.4,171.1 505.4,171.3 506.4,171.5 507.4,171.8 508.3,172.0 509.3,172.2 510.3,172.4 511.3,172.7 512.2,172.9 513.2,173.1 514.2,173.3 515.2,173.5 516.1,173.8 517.1,174.0 518.1,174.2 519.1,174.4 520.0,174.6 521.0,174.9 522.0,175.1 523.0,175.3 523.9,175.5 524.9,175.7 525.9,175.9 526.9,176.1 527.9,176.3 528.8,176.5 529.8,176.7 530.8,176.9 531.8,177.0 532.8,177.2 533.8,177.4 534.7,177.6 535.7,177.8 536.7,177.9 537.7,178.1 538.7,178.3 539.7,178.4 540.7,178.6 541.6,178.8 542.6,178.9 543.6,179.1 544.6,179.2 545.6,179.4 546.6,179.5 547.6,179.7 548.6,179.8 549.6,179.9 550.5,180.1 551.5,180.2 552.5,180.3 553.5,180.5 554.5,180.6 555.5,180.7 556.5,180.9 557.5,181.0 558.5,181.1 559.5,181.2 560.5,181.4 561.5,181.5 562.5,181.6 563.4,181.7 564.4,181.9 565.4,182.0 566.4,182.1 567.4,182.2 568.4,182.3 569.4,182.5 570.4,182.6 571.4,182.7 570.4,182.9 569.4,183.0 568.4,183.2 567.5,183.4 566.5,183.5 565.5,183.7 564.5,183.8 563.5,184.0 562.5,184.2 561.6,184.3 560.6,184.5 559.6,184.7 558.6,184.8 557.6,185.0 556.6,185.2 555.7,185.3 554.7,185.5 553.7,185.7 552.7,185.8 551.7,186.0 550.8,186.2 549.8,186.3 548.8,186.5 547.8,186.7 546.8,186.9 545.9,187.0 544.9,187.2 543.9,187.4 542.9,187.6 542.0,187.7 541.0,187.9 540.0,188.1 539.0,188.3 538.1,188.4 537.1,188.6 536.1,188.8 535.1,189.0 534.2,189.2 533.2,189.4 532.2,189.5 531.3,189.7 530.3,189.9 529.3,190.1 528.4,190.3 527.4,190.5 526.4,190.7 525.5,190.9 524.5,191.1 523.6,191.3 522.6,191.5 521.6,191.7 520.7,191.9 519.7,192.1 518.8,192.3 517.8,192.5 516.8,192.7 515.9,192.9 514.9,193.1 514.0,193.3 513.0,193.5 512.0,193.7 511.1,193.8 510.1,194.0 509.1,194.2 508.2,194.4 507.2,194.5 506.2,194.7 505.3,194.9 504.3,195.0 503.3,195.2 502.3,195.3 501.4,195.5 500.4,195.6 499.4,195.8 498.4,195.9 497.4,196.0 496.5,196.2 495.5,196.3 494.5,196.4 493.5,196.6 492.5,196.7 491.5,196.8 490.5,196.9 489.5,197.0 488.6,197.1 487.6,197.3 486.6,197.4 485.6,197.5 484.6,197.6 483.6,197.7 482.6,197.8 481.6,197.9 480.6,198.0 479.6,198.1 478.6,198.2 477.6,198.3 476.6,198.4 475.6,198.5 474.6,198.6 473.6,198.7 472.6,198.8 471.6,198.9 470.6,199.0 469.6,199.2 468.7,199.3 467.7,199.4 466.7,199.5 465.7,199.6 464.7,199.7 463.7,199.8 462.7,199.9 461.7,200.0 460.7,200.2 459.7,200.3 458.7,200.4 457.7,200.5 456.7,200.6 455.7,200.7 454.7,200.8 453.7,200.9 452.7,201.1 451.7,201.2 450.7,201.3 449.7,201.4 448.7,201.5 447.7,201.6 446.7,201.7 445.8,201.8 444.8,202.0 443.8,202.1 442.8,202.2 441.8,202.3 440.8,202.4 439.8,202.5 438.8,202.6 437.8,202.7 436.8,202.8 435.8,202.9 434.8,203.0 433.8,203.1 432.8,203.2 431.8,203.3 430.8,203.4 429.8,203.5 428.8,203.6 427.8,203.7 426.8,203.8 425.8,203.8 424.8,203.9 423.8,204.0 422.8,204.1 421.8,204.2 420.8,204.2 419.8,204.3 418.8,204.4 417.8,204.4 416.8,204.5 415.8,204.6 414.8,204.6 413.8,204.7 412.8,204.8 411.8,204.8 410.8,204.9 409.8,205.0 408.8,205.0 407.8,205.1 406.8,205.1 405.8,205.2 404.8,205.3 403.8,205.3 402.8,205.4 401.8,205.5 400.8,205.6 399.8,205.6 398.8,205.7 397.8,205.8 396.8,205.9 395.8,206.0 394.8,206.1 393.8,206.2 392.8,206.3 391.8,206.4 390.8,206.5 389.8,206.6 388.8,206.8 387.8,206.9 386.8,207.0 385.8,207.2 384.8,207.4 383.8,207.5 382.8,207.7 381.8,207.9 380.8,208.1 379.8,208.3 378.9,208.5 377.9,208.7 376.9,208.9 375.9,209.2 375.0,209.4 374.0,209.7 373.1,210.0 372.1,210.3 371.2,210.6 370.2,211.0 369.3,211.3 368.4,211.7 367.5,212.1 366.6,212.5 365.7,213.0 364.8,213.4 364.0,213.9 363.1,214.4 362.2,214.9 361.4,215.4 360.6,216.0 359.7,216.5 358.9,217.1 358.1,217.7 357.3,218.3 356.6,218.9 355.8,219.6 355.0,220.2 354.3,220.9 353.5,221.6 352.8,222.3 352.1,223.0 351.4,223.7 350.7,224.4 350.0,225.2 349.3,225.9 348.7,226.7 348.0,227.4 347.4,228.2 346.8,229.0 346.1,229.8 345.5,230.6 345.0,231.4 344.4,232.3 343.8,233.1 343.2,233.9 342.7,234.8 342.2,235.6 341.6,236.5 341.1,237.4 340.6,238.2 340.1,239.1 339.6,240.0 339.1,240.8 338.6,241.7 338.2,242.6 337.7,243.5 337.3,244.4 336.8,245.3 336.4,246.2 335.9,247.1 335.5,248.0 335.1,248.9 334.7,249.8 334.2,250.8 333.8,251.7 333.4,252.6 333.0,253.5 332.6,254.4 332.2,255.4 331.8,256.3 331.4,257.2 331.1,258.1 330.7,259.1 330.3,260.0 329.9,260.9 329.5,261.9 329.2,262.8 328.8,263.7 328.4,264.7 328.1,265.6 327.7,266.5 327.3,267.5 327.0,268.4 326.6,269.3 326.2,270.3 325.9,271.2 325.5,272.1 325.1,273.0 324.7,274.0 324.4,274.9 324.0,275.8 323.6,276.8 323.2,277.7 322.9,278.6 322.5,279.5 322.1,280.4 321.7,281.4 321.3,282.3 320.9,283.2 320.5,284.1 320.1,285.0 319.7,285.9 319.3,286.8 318.9,287.7 318.5,288.6 318.1,289.5 317.7,290.4 317.3,291.3 316.9,292.2 316.5,293.1 316.1,294.1 315.7,295.0 315.4,295.9 315.0,296.8 314.7,297.7 314.3,298.7 314.0,299.6 313.7,300.6 313.4,301.5 313.1,302.4 312.8,303.4 312.5,304.3 312.3,305.3 312.0,306.3 311.7,307.2 311.5,308.2 311.2,309.1 311.0,310.1 310.7,311.1 310.5,312.1 310.2,313.0 310.0,314.0 309.8,315.0 309.5,315.9 309.3,316.9 309.0,317.9 308.8,318.9 308.6,319.8 308.3,320.8 308.1,321.8 307.8,322.8 307.6,323.7 307.3,324.7 307.1,325.7 306.8,326.6 306.5,327.6 306.3,328.6 306.0,329.5 305.7,330.5 305.4,331.5 305.1,332.4 304.8,333.4 304.5,334.3 304.1,335.3 303.8,336.2 303.4,337.2 303.1,338.1 302.7,339.0 302.3,340.0 301.9,340.9 301.5,341.8 301.1,342.7 300.7,343.7 300.3,344.6 299.8,345.5 299.4,346.4 298.9,347.3 298.4,348.2 297.9,349.1 297.5,350.0 297.0,350.9 296.5,351.8 296.0,352.7 295.5,353.6 294.9,354.5 294.4,355.3 293.8,356.2 293.3,357.0 292.7,357.8 292.1,358.6 291.5,359.4 290.9,360.2 290.2,361.0 289.6,361.7 288.9,362.4 288.2,363.1 287.5,363.8 286.8,364.4 286.0,365.1 285.3,365.6 284.5,366.2 283.7,366.7 282.8,367.2 282.0,367.6 281.1,368.0 280.3,368.4 279.4,368.7 278.5,369.0 277.6,369.2 276.6,369.4 275.7,369.6 274.8,369.7 273.8,369.8 272.9,369.8 271.9,369.8 271.0,369.8 270.0,369.7 269.1,369.6 268.1,369.5 267.1,369.4 266.2,369.2 265.2,369.0 264.3,368.8 263.3,368.6 262.3,368.4 261.4,368.1 260.4,367.8 259.5,367.5 258.5,367.2 257.6,366.9 256.6,366.6 255.7,366.2 254.8,365.8 253.8,365.5 252.9,365.1 251.9,364.7 251.0,364.3 250.1,363.9 249.1,363.5 248.2,363.0 247.3,362.6 246.4,362.2 245.4,361.7 244.5,361.3 243.6,360.9 242.7,360.4 241.8,359.9 240.9,359.5 240.0,359.0 239.1,358.6 238.1,358.1 237.2,357.6 236.3,357.1 235.4,356.7 234.5,356.2 233.6,355.7 232.7,355.2 231.8,354.7 230.9,354.3 230.0,353.8 229.2,353.3 228.3,352.8 227.4,352.3 226.5,351.8 225.6,351.3 224.7,350.8 223.8,350.4 222.9,349.9 222.0,349.4 221.1,348.9 220.2,348.4 219.3,347.9 218.5,347.5 217.6,347.0 216.7,346.5 215.8,346.0 214.9,345.6 214.0,345.1 213.1,344.6 212.2,344.2 211.3,343.7 210.4,343.2 209.5,342.8 208.6,342.3 207.7,341.9 206.8,341.4 205.9,341.0 205.0,340.5 204.1,340.1 203.2,339.6 202.3,339.2 201.4,338.8 200.5,338.3 199.6,337.9 198.7,337.5 197.8,337.0 196.9,336.6 196.0,336.2 195.1,335.8 194.2,335.4 193.3,335.0 192.4,334.6 191.4,334.2 190.5,333.8 189.6,333.4 188.7,333.0 187.8,332.6 186.8,332.2 185.9,331.8 185.0,331.4 184.1,331.1 183.1,330.7 182.2,330.3 181.3,330.0 180.4,329.6 179.4,329.3 178.5,328.9 177.5,328.6 176.6,328.2 175.7,327.9 174.7,327.5 173.8,327.2 172.8,326.9 171.9,326.6 170.9,326.3 170.0,325.9 169.0,325.6 168.1,325.3 167.1,325.0 166.2,324.7 165.2,324.4 164.3,324.1 163.3,323.9 162.4,323.6 161.4,323.3 160.4,323.0 159.5,322.7 158.5,322.5 157.5,322.2 156.6,321.9 155.6,321.7 154.7,321.4 153.7,321.2 152.7,320.9 151.7,320.7 150.8,320.4 149.8,320.2 148.8,319.9 147.9,319.7 146.9,319.4 145.9,319.2 144.9,319.0 144.0,318.7 143.0,318.5 142.0,318.3 141.1,318.0 140.1,317.8 139.1,317.6 138.1,317.4 137.1,317.1 136.2,316.9 135.2,316.7 134.2,316.5 133.2,316.3 132.3,316.1 131.3,315.9 130.3,315.7 129.3,315.5 128.3,315.3 127.4,315.1 126.4,314.9 125.4,314.7 124.4,314.5 123.4,314.3 122.4,314.1 121.5,313.9 120.5,313.7 119.5,313.6 118.5,313.4 117.5,313.2 116.5,313.0 115.5,312.9 114.6,312.7 113.6,312.5 112.6,312.4 111.6,312.2 110.6,312.0 109.6,311.9 108.6,311.7 107.6,311.6 106.7,311.4 105.7,311.3 104.7,311.1 103.7,310.9 102.7,310.8" stroke="#ff00ff" stroke-width="4.0" fill="none" stroke-linejoin="round" stroke-linecap="round"/>
<path d="M95.3,336.9 96.1,336.3 96.9,335.7 97.7,335.1 98.4,334.5 99.2,333.8 100.0,333.3 100.8,332.7 101.6,332.1 102.4,331.5 103.3,330.9 104.1,330.3 104.9,329.8 105.7,329.2 106.5,328.7 107.4,328.1 108.2,327.6 109.0,327.1 109.9,326.5 110.7,326.0 111.6,325.5 112.4,325.0 113.3,324.5 114.2,324.1 115.0,323.6 115.9,323.2 116.8,322.7 117.7,322.3 118.6,321.8 119.5,321.4 120.4,321.0 121.3,320.6 122.2,320.2 123.1,319.8 124.0,319.4 125.0,319.1 125.9,318.7 126.8,318.3 127.8,318.0 128.7,317.6 129.6,317.3 130.6,316.9 131.5,316.6 132.4,316.3 133.4,315.9 134.3,315.6 135.3,315.3 136.2,315.0 137.2,314.6 138.1,314.3 139.1,314.0 140.0,313.7 141.0,313.4 142.0,313.1 142.9,312.8 143.9,312.6 144.8,312.3 145.8,312.0 146.8,311.7 147.7,311.4 148.7,311.1 149.7,310.9 150.6,310.6 151.6,310.3 152.6,310.1 153.5,309.8 154.5,309.5 155.5,309.3 156.4,309.0 157.4,308.8 158.4,308.5 159.3,308.3 160.3,308.0 161.3,307.8 162.2,307.5 163.2,307.3 164.2,307.1 165.2,306.8 166.1,306.6 167.1,306.4 168.1,306.1 169.0,305.9 170.0,305.6 171.0,305.4 171.9,305.2 172.9,305.0 173.9,304.7 174.9,304.5 175.8,304.3 176.8,304.0 177.8,303.8 178.7,303.6 179.7,303.3 180.7,303.1 181.6,302.9 182.6,302.6 183.5,302.4 184.5,302.2 185.5,301.9 186.4,301.7 187.4,301.4 188.3,301.2 189.3,301.0 190.2,300.7 191.2,300.5 192.1,300.2 193.1,300.0 194.0,299.7 195.0,299.5 195.9,299.2 196.9,299.0 197.8,298.7 198.7,298.5 199.7,298.2 200.6,297.9 201.5,297.7 202.5,297.4 203.4,297.1 204.3,296.9 205.2,296.6 206.1,296.3 207.0,296.0 207.9,295.7 208.8,295.4 209.7,295.2 210.7,294.9 211.6,294.6 212.5,294.3 213.4,294.0 214.3,293.8 215.2,293.5 216.1,293.2 217.0,293.0 217.9,292.7 218.8,292.4 219.6,292.2 220.5,291.9 221.4,291.6 222.3,291.4 223.2,291.1 224.1,290.9 225.0,290.6 225.9,290.3 226.8,290.0 227.6,289.8 228.5,289.5 229.4,289.2 230.3,288.9 231.1,288.6 232.0,288.4 232.9,288.1 233.7,287.8 234.6,287.5 235.5,287.2 236.3,286.9 237.2,286.6 238.1,286.3 239.0,286.0 239.8,285.7 240.7,285.4 241.6,285.1 242.5,284.7 243.4,284.4 244.2,284.1 245.1,283.8 246.0,283.4 246.9,283.1 247.8,282.8 248.7,282.4 249.5,282.1 250.4,281.7 251.3,281.4 252.2,281.0 253.1,280.7 254.0,280.3 254.9,279.9 255.8,279.5 256.7,279.1 257.5,278.7 258.4,278.3 259.3,277.9 260.2,277.4 261.0,277.0 261.9,276.5 262.8,276.1 263.6,275.6 264.5,275.1 265.3,274.6 266.2,274.1 267.0,273.5 267.8,273.0 268.6,272.4 269.5,271.9 270.3,271.3 271.1,270.7 271.8,270.1 272.6,269.5 273.4,268.8 274.2,268.2 274.9,267.5 275.6,266.9 276.4,266.2 277.1,265.5 277.8,264.8 278.5,264.1 279.2,263.4 279.8,262.6 280.5,261.9 281.2,261.1 281.8,260.3 282.4,259.6 283.0,258.8 283.6,258.0 284.2,257.2 284.8,256.4 285.3,255.5 285.9,254.7 286.5,253.9 287.0,253.0 287.5,252.2 288.0,251.3 288.6,250.5 289.1,249.6 289.6,248.8 290.1,247.9 290.5,247.0 291.0,246.2 291.5,245.3 292.0,244.4 292.5,243.5 293.0,242.7 293.5,241.8 294.0,240.9 294.4,240.0 294.9,239.2 295.4,238.3 295.9,237.4 296.4,236.5 296.9,235.7 297.3,234.8 297.8,233.9 298.3,233.0 298.8,232.1 299.2,231.3 299.7,230.4 300.2,229.5 300.6,228.6 301.1,227.7 301.5,226.8 302.0,225.9 302.4,225.0 302.9,224.1 303.3,223.2 303.7,222.3 304.2,221.4 304.6,220.5 305.0,219.6 305.4,218.7 305.8,217.8 306.1,216.9 306.5,215.9 306.9,215.0 307.3,214.1 307.6,213.2 308.0,212.2 308.3,211.3 308.7,210.4 309.0,209.5 309.3,208.5 309.6,207.6 310.0,206.7 310.3,205.8 310.6,204.9 310.9,203.9 311.2,203.0 311.5,202.1 311.8,201.2 312.1,200.3 312.4,199.3 312.7,198.4 312.9,197.5 313.2,196.5 313.4,195.6 313.6,194.7 313.9,193.7 314.1,192.8 314.3,191.8 314.5,190.9 314.7,189.9 314.9,189.0 315.2,188.0 315.4,187.1 315.6,186.1 315.8,185.2 316.0,184.2 316.3,183.2 316.5,182.3 316.7,181.3 317.0,180.4 317.2,179.4 317.5,178.5 317.7,177.5 318.0,176.6 318.2,175.6 318.5,174.7 318.8,173.7 319.0,172.7 319.3,171.8 319.5,170.8 319.8,169.9 320.0,168.9 320.3,167.9 320.6,167.0 320.8,166.0 321.1,165.0 321.3,164.1 321.6,163.1 321.8,162.1 322.1,161.2 322.3,160.2 322.6,159.2 322.8,158.3 323.1,157.3 323.3,156.3 323.5,155.3 323.8,154.4 324.0,153.4 324.2,152.4 324.4,151.4 324.6,150.5 324.9,149.5 325.1,148.5 325.3,147.5 325.5,146.6 325.7,145.6 325.9,144.6 326.1,143.6 326.4,142.7 326.6,141.7 326.8,140.7 327.0,139.7 327.2,138.8 327.5,137.8 327.7,136.8 327.9,135.8 328.2,134.9 328.4,133.9 328.6,132.9 328.9,132.0 329.1,131.0 329.3,130.0 329.6,129.1 329.8,128.1 330.1,127.1 330.3,126.1 330.6,125.2 330.8,124.2 331.1,123.2 331.3,122.3 331.6,121.3 331.8,120.3 332.1,119.3 332.3,118.4 332.6,117.4 332.8,116.4 333.1,115.5 333.3,114.5 333.6,113.5 333.8,112.5 334.1,111.6 334.4,110.6 334.6,109.6 334.9,108.6 335.1,107.7 335.4,106.7 335.7,105.7 336.0,104.7 336.2,103.8 336.5,102.8 336.8,101.8 337.1,100.9 337.5,99.9 337.8,98.9 338.1,98.0 338.4,97.0 338.8,96.1 339.2,95.1 339.5,94.2 339.9,93.2 340.3,92.3 340.7,91.3 341.1,90.4 341.6,89.5 342.0,88.6 342.5,87.7 343.0,86.8 343.5,85.9 344.0,85.0 344.5,84.1 345.1,83.3 345.6,82.4 346.2,81.6 346.8,80.8 347.4,80.0 348.1,79.2 348.8,78.5 349.4,77.8 350.1,77.1 350.9,76.4 351.6,75.8 352.4,75.2 353.1,74.6 353.9,74.1 354.8,73.6 355.6,73.2 356.4,72.8 357.3,72.4 358.2,72.1 359.1,71.9 359.9,71.7 360.8,71.6 361.7,71.5 362.6,71.5 363.6,71.5 364.5,71.6 365.4,71.7 366.3,71.9 367.2,72.2 368.1,72.5 368.9,72.8 369.8,73.2 370.7,73.6 371.5,74.1 372.4,74.6 373.2,75.1 374.0,75.7 374.8,76.2 375.6,76.9 376.4,77.5 377.2,78.2 377.9,78.9 378.6,79.6 379.4,80.3 380.1,81.0 380.8,81.8 381.5,82.5 382.1,83.3 382.8,84.1 383.4,84.9 384.1,85.7 384.7,86.5 385.3,87.3 385.9,88.1 386.5,88.9 387.1,89.8 387.7,90.6 388.3,91.4 388.9,92.3 389.4,93.1 390.0,93.9 390.6,94.8 391.2,95.6 391.7,96.5 392.3,97.3 392.9,98.1 393.5,98.9 394.1,99.7 394.7,100.5 395.3,101.3 395.9,102.1 396.5,102.9 397.2,103.7 397.8,104.4 398.4,105.2 399.1,106.0 399.8,106.7 400.4,107.4 401.1,108.2 401.8,108.9 402.5,109.6 403.2,110.4 403.9,111.1 404.6,111.8 405.3,112.5 406.0,113.2 406.7,113.9 407.4,114.6 408.1,115.3 408.9,115.9 409.6,116.6 410.3,117.3 411.1,118.0 411.8,118.6 412.6,119.3 413.3,120.0 414.1,120.6 414.8,121.3 415.6,121.9 416.4,122.6 417.1,123.2 417.9,123.9 418.7,124.5 419.4,125.1 420.2,125.8 421.0,126.4 421.8,127.0 422.6,127.6 423.4,128.2 424.1,128.9 424.9,129.5 425.7,130.1 426.5,130.7 427.4,131.2 428.2,131.8 429.0,132.4 429.8,133.0 430.6,133.5 431.4,134.1 432.3,134.7 433.1,135.2 433.9,135.8 434.8,136.3 435.6,136.8 436.5,137.4 437.3,137.9 438.2,138.4 439.0,138.9 439.9,139.4 440.8,139.9 441.6,140.4 442.5,140.9 443.4,141.3 444.3,141.8 445.1,142.3 446.0,142.7 446.9,143.2 447.8,143.6 448.7,144.1 449.6,144.5 450.5,144.9 451.4,145.4 452.3,145.8 453.2,146.2 454.1,146.6 455.1,147.0 456.0,147.4 456.9,147.8 457.8,148.2 458.7,148.5 459.7,148.9 460.6,149.3 461.5,149.7 462.4,150.0 463.4,150.4 464.3,150.8 465.2,151.1 466.2,151.5 467.1,151.9 468.1,152.2 469.0,152.6 469.9,152.9 470.9,153.3 471.8,153.6 472.7,154.0 473.7,154.3 474.6,154.7 475.6,155.0 476.5,155.4 477.4,155.7 478.4,156.0 479.3,156.4 480.3,156.7 481.2,157.1 482.1,157.4 483.1,157.8 484.0,158.1 485.0,158.5 485.9,158.8 486.8,159.2 487.8,159.5 488.7,159.8 489.7,160.2 490.6,160.5 491.5,160.9 492.5,161.2 493.4,161.5 494.4,161.9 495.3,162.2 496.3,162.5 497.2,162.8 498.1,163.1 499.1,163.5 500.0,163.8 501.0,164.1 501.9,164.4 502.9,164.7 503.8,165.0 504.8,165.3 505.8,165.5 506.7,165.8 507.7,166.1 508.6,166.4 509.6,166.6 510.6,166.9 511.5,167.2 512.5,167.4 513.5,167.7 514.4,167.9 515.4,168.1 516.4,168.4 517.3,168.6 518.3,168.8 519.3,169.1 520.2,169.3 521.2,169.5 522.2,169.7 523.2,169.9 524.1,170.1 525.1,170.3 526.1,170.5 527.1,170.7 528.1,170.9 529.0,171.1 530.0,171.3 531.0,171.5 532.0,171.7 533.0,171.9 533.9,172.1 534.9,172.3 535.9,172.5 536.9,172.7 537.9,172.8 538.8,173.0 539.8,173.2 540.8,173.4 541.8,173.5 542.8,173.7 543.8,173.9 544.8,174.0 545.7,174.2 546.7,174.4 547.7,174.5 548.7,174.7 549.7,174.9 550.7,175.0 551.7,175.2 552.7,175.3 553.6,175.5 554.6,175.6 555.6,175.8 556.6,176.0 557.6,176.1 558.6,176.3 559.6,176.4 560.6,176.5 561.6,176.7 562.6,176.8 563.5,177.0 564.5,177.1 565.5,177.3 566.5,177.4 567.5,177.6 568.5,177.7 569.5,177.8 570.5,178.0 571.5,178.1 572.5,178.3 573.5,178.4 574.5,178.5 575.5,178.7 576.5,178.8 577.4,178.9 578.4,179.1 579.4,179.2 580.4,179.4 581.4,179.5 582.4,179.6 583.4,179.8 584.4,179.9 583.4,180.1 582.4,180.3 581.4,180.5 580.5,180.7 579.5,180.9 578.5,181.1 577.5,181.3 576.5,181.5 575.5,181.7 574.5,181.9 573.6,182.1 572.6,182.3 571.6,182.5 570.6,182.7 569.6,182.9 568.6,183.1 567.6,183.3 566.7,183.5 565.7,183.7 564.7,183.9 563.7,184.1 562.7,184.3 561.8,184.5 560.8,184.7 559.8,185.0 558.8,185.2 557.8,185.4 556.9,185.6 555.9,185.8 554.9,186.0 553.9,186.2 553.0,186.4 552.0,186.6 551.0,186.8 550.0,187.1 549.1,187.3 548.1,187.5 547.1,187.7 546.2,187.9 545.2,188.2 544.2,188.4 543.2,188.6 542.3,188.8 541.3,189.0 540.4,189.3 539.4,189.5 538.4,189.7 537.5,189.9 536.5,190.2 535.5,190.4 534.6,190.6 533.6,190.9 532.7,191.1 531.7,191.3 530.8,191.6 529.8,191.8 528.8,192.0 527.9,192.2 526.9,192.5 526.0,192.7 525.0,192.9 524.1,193.1 523.1,193.3 522.2,193.6 521.2,193.8 520.3,194.0 519.3,194.2 518.4,194.4 517.4,194.6 516.4,194.8 515.5,195.0 514.5,195.2 513.6,195.3 512.6,195.5 511.6,195.7 510.7,195.9 509.7,196.0 508.7,196.2 507.8,196.4 506.8,196.5 505.8,196.7 504.8,196.8 503.9,197.0 502.9,197.1 501.9,197.3 500.9,197.4 499.9,197.5 499.0,197.7 498.0,197.8 497.0,197.9 496.0,198.1 495.0,198.2 494.0,198.3 493.1,198.5 492.1,198.6 491.1,198.7 490.1,198.8 489.1,199.0 488.1,199.1 487.1,199.2 486.1,199.3 485.1,199.4 484.1,199.6 483.1,199.7 482.1,199.8 481.1,199.9 480.1,200.0 479.2,200.1 478.2,200.3 477.2,200.4 476.2,200.5 475.2,200.6 474.2,200.7 473.2,200.9 472.2,201.0 471.2,201.1 470.2,201.2 469.2,201.4 468.2,201.5 467.2,201.6 466.2,201.7 465.2,201.9 464.2,202.0 463.2,202.1 462.2,202.2 461.2,202.4 460.2,202.5 459.3,202.6 458.3,202.8 457.3,202.9 456.3,203.0 455.3,203.1 454.3,203.3 453.3,203.4 452.3,203.5 451.3,203.6 450.3,203.7 449.3,203.8 448.3,204.0 447.3,204.1 446.3,204.2 445.3,204.3 444.3,204.4 443.3,204.5 442.3,204.6 441.3,204.7 440.3,204.7 439.4,204.8 438.4,204.9 437.4,205.0 436.4,205.1 435.4,205.1 434.4,205.2 433.4,205.3 432.4,205.4 431.4,205.5 430.4,205.5 429.4,205.6 428.4,205.7 427.4,205.7 426.4,205.8 425.4,205.9 424.4,206.0 423.4,206.0 422.4,206.1 421.4,206.2 420.4,206.3 419.4,206.4 418.4,206.4 417.4,206.5 416.4,206.6 415.4,206.7 414.4,206.8 413.4,206.9 412.4,207.0 411.4,207.1 410.4,207.2 409.4,207.3 408.4,207.4 407.4,207.5 406.4,207.6 405.4,207.7 404.4,207.8 403.4,208.0 402.4,208.1 401.4,208.2 400.4,208.4 399.4,208.5 398.4,208.7 397.4,208.8 396.5,209.0 395.5,209.1 394.5,209.3 393.5,209.5 392.5,209.7 391.5,209.9 390.5,210.1 389.5,210.3 388.5,210.5 387.5,210.7 386.6,210.9 385.6,211.2 384.6,211.4 383.6,211.7 382.7,211.9 381.7,212.2 380.7,212.5 379.8,212.8 378.8,213.1 377.8,213.5 376.9,213.8 375.9,214.2 375.0,214.5 374.1,214.9 373.1,215.3 372.2,215.7 371.3,216.1 370.4,216.6 369.5,217.0 368.6,217.5 367.8,218.0 366.9,218.5 366.0,219.0 365.2,219.5 364.4,220.1 363.6,220.6 362.8,221.2 362.0,221.8 361.2,222.4 360.5,223.1 359.8,223.7 359.0,224.4 358.4,225.1 357.7,225.8 357.0,226.5 356.4,227.3 355.8,228.0 355.2,228.8 354.6,229.6 354.1,230.4 353.5,231.2 353.0,232.1 352.5,232.9 352.0,233.8 351.5,234.6 351.1,235.5 350.6,236.4 350.1,237.3 349.7,238.2 349.3,239.1 348.9,240.1 348.4,241.0 348.0,241.9 347.6,242.9 347.2,243.8 346.8,244.7 346.4,245.7 346.0,246.6 345.6,247.6 345.3,248.5 344.9,249.4 344.5,250.4 344.1,251.3 343.7,252.3 343.3,253.2 342.9,254.1 342.6,255.1 342.2,256.0 341.8,257.0 341.4,257.9 341.0,258.8 340.7,259.8 340.3,260.7 339.9,261.6 339.5,262.6 339.2,263.5 338.8,264.4 338.4,265.4 338.0,266.3 337.7,267.3 337.3,268.2 336.9,269.1 336.6,270.1 336.2,271.0 335.9,271.9 335.5,272.9 335.1,273.8 334.8,274.7 334.4,275.7 334.1,276.6 333.7,277.5 333.4,278.5 333.1,279.4 332.7,280.4 332.4,281.3 332.0,282.2 331.7,283.2 331.4,284.1 331.0,285.1 330.7,286.0 330.4,286.9 330.1,287.9 329.7,288.8 329.4,289.8 329.1,290.7 328.8,291.7 328.5,292.6 328.2,293.6 327.9,294.5 327.5,295.5 327.2,296.4 326.9,297.4 326.6,298.3 326.4,299.3 326.1,300.2 325.8,301.2 325.5,302.2 325.2,303.1 324.9,304.1 324.6,305.0 324.3,306.0 324.1,307.0 323.8,307.9 323.5,308.9 323.2,309.8 322.9,310.8 322.7,311.8 322.4,312.7 322.1,313.7 321.8,314.7 321.6,315.6 321.3,316.6 321.0,317.5 320.8,318.5 320.5,319.5 320.2,320.4 319.9,321.4 319.7,322.4 319.4,323.3 319.1,324.3 318.8,325.3 318.6,326.2 318.3,327.2 318.0,328.1 317.7,329.1 317.5,330.1 317.2,331.0 316.9,332.0 316.6,333.0 316.3,333.9 316.1,334.9 315.8,335.8 315.5,336.8 315.2,337.8 314.9,338.7 314.6,339.7 314.3,340.6 314.0,341.6 313.7,342.5 313.4,343.5 313.1,344.5 312.8,345.4 312.5,346.4 312.2,347.3 311.9,348.3 311.6,349.2 311.3,350.2 311.0,351.1 310.7,352.1 310.4,353.0 310.0,354.0 309.7,354.9 309.4,355.9 309.1,356.8 308.8,357.8 308.5,358.7 308.2,359.7 307.8,360.6 307.5,361.6 307.2,362.5 306.9,363.5 306.6,364.4 306.2,365.4 305.9,366.3 305.6,367.3 305.3,368.2 304.9,369.2 304.6,370.1 304.3,371.1 303.9,372.0 303.6,373.0 303.2,373.9 302.9,374.9 302.6,375.8 302.2,376.8 301.9,377.7 301.5,378.7 301.1,379.6 300.8,380.5 300.4,381.5 300.0,382.4 299.7,383.4 299.3,384.3 298.9,385.3 298.5,386.2 298.1,387.2 297.7,388.1 297.3,389.1 296.9,390.0 296.5,390.9 296.1,391.9 295.7,392.8 295.2,393.7 294.8,394.7 294.3,395.6 293.8,396.5 293.3,397.4 292.8,398.2 292.3,399.1 291.8,400.0 291.3,400.8 290.7,401.6 290.1,402.4 289.5,403.2 288.9,404.0 288.3,404.7 287.6,405.4 286.9,406.1 286.2,406.7 285.5,407.4 284.8,407.9 284.0,408.5 283.2,409.0 282.4,409.4 281.6,409.8 280.7,410.2 279.8,410.5 279.0,410.8 278.1,411.0 277.1,411.2 276.2,411.4 275.3,411.5 274.3,411.6 273.4,411.6 272.4,411.6 271.5,411.6 270.5,411.5 269.6,411.4 268.6,411.3 267.6,411.1 266.7,410.9 265.7,410.7 264.8,410.5 263.8,410.3 262.9,410.0 261.9,409.7 261.0,409.4 260.0,409.1 259.1,408.7 258.2,408.4 257.2,408.0 256.3,407.6 255.4,407.2 254.5,406.8 253.6,406.4 252.7,405.9 251.8,405.5 250.9,405.0 250.0,404.5 249.1,404.0 248.2,403.5 247.4,403.0 246.5,402.4 245.6,401.9 244.8,401.4 243.9,400.8 243.1,400.3 242.3,399.7 241.4,399.1 240.6,398.5 239.8,397.9 238.9,397.3 238.1,396.8 237.3,396.1 236.5,395.5 235.6,394.9 234.8,394.3 234.0,393.7 233.2,393.1 232.4,392.5 231.6,391.9 230.8,391.2 230.0,390.6 229.2,390.0 228.3,389.4 227.5,388.8 226.7,388.1 225.9,387.5 225.1,386.9 224.3,386.3 223.5,385.7 222.7,385.1 221.8,384.5 221.0,383.9 220.2,383.4 219.4,382.8 218.5,382.2 217.7,381.6 216.8,381.1 216.0,380.5 215.2,380.0 214.3,379.4 213.5,378.9 212.6,378.3 211.8,377.8 210.9,377.3 210.1,376.8 209.2,376.2 208.3,375.7 207.5,375.2 206.6,374.7 205.7,374.2 204.9,373.7 204.0,373.2 203.1,372.7 202.2,372.3 201.4,371.8 200.5,371.3 199.6,370.8 198.7,370.4 197.8,369.9 196.9,369.4 196.1,369.0 195.2,368.5 194.3,368.1 193.4,367.6 192.5,367.2 191.6,366.7 190.7,366.3 189.8,365.9 188.9,365.4 188.0,365.0 187.1,364.6 186.2,364.1 185.3,363.7 184.3,363.3 183.4,362.9 182.5,362.5 181.6,362.1 180.7,361.7 179.8,361.3 178.9,360.9 177.9,360.5 177.0,360.1 176.1,359.7 175.2,359.3 174.2,358.9 173.3,358.5 172.4,358.1 171.5,357.8 170.5,357.4 169.6,357.0 168.7,356.7 167.7,356.3 166.8,355.9 165.9,355.6 164.9,355.2 164.0,354.9 163.1,354.5 162.1,354.2 161.2,353.8 160.2,353.5 159.3,353.1 158.3,352.8 157.4,352.5 156.5,352.1 155.5,351.8 154.6,351.5 153.6,351.2 152.7,350.8 151.7,350.5 150.8,350.2 149.8,349.9 148.9,349.6 147.9,349.3 146.9,349.0 146.0,348.7 145.0,348.4 144.1,348.1 143.1,347.8 142.2,347.5 141.2,347.3 140.2,347.0 139.3,346.7 138.3,346.4 137.3,346.2 136.4,345.9 135.4,345.6 134.4,345.4 133.5,345.1 132.5,344.9 131.5,344.6 130.6,344.4 129.6,344.1 128.6,343.9 127.7,343.6 126.7,343.4 125.7,343.2 124.7,342.9 123.8,342.7 122.8,342.5 121.8,342.2 120.8,342.0 119.9,341.8 118.9,341.6 117.9,341.4 116.9,341.2 115.9,340.9 115.0,340.7 114.0,340.5 113.0,340.3 112.0,340.1 111.0,339.9 110.1,339.7 109.1,339.5 108.1,339.3 107.1,339.1 106.1,338.9 105.1,338.7 104.2,338.6 103.2,338.4 102.2,338.2 101.2,338.0 100.2,337.8 99.2,337.6 98.3,337.4 97.3,337.3 96.3,337.1 95.3,336.9" stroke="#00ffff" stroke-width="4.0" fill="none" stroke-linejoin="round" stroke-linecap="round"/>
<text x="486.6" y="24.9" text-anchor="middle" class="lab" style="font-size:27.8px" stroke="#000" stroke-width="0.3">B</text>
<text x="447.5" y="117.7" text-anchor="end" class="it">40</text><rect x="452.5" y="113.7" width="2.5" height="0.8" fill="#aaa"/><text x="447.5" y="102.1" text-anchor="end" class="it">60</text><rect x="452.5" y="98.1" width="2.5" height="0.8" fill="#aaa"/><text x="447.5" y="86.6" text-anchor="end" class="it">80</text><rect x="452.5" y="82.6" width="2.5" height="0.8" fill="#aaa"/><text x="447.5" y="71.0" text-anchor="end" class="it">100</text><rect x="452.5" y="67.0" width="2.5" height="0.8" fill="#aaa"/><text x="447.5" y="55.4" text-anchor="end" class="it">120</text><rect x="452.5" y="51.4" width="2.5" height="0.8" fill="#aaa"/><text x="447.5" y="39.9" text-anchor="end" class="it">140</text><rect x="452.5" y="35.9" width="2.5" height="0.8" fill="#aaa"/><text x="447.5" y="24.3" text-anchor="end" class="it">160</text><rect x="452.5" y="20.3" width="2.5" height="0.8" fill="#aaa"/>
<text x="459.4" y="136.6" text-anchor="middle" class="it">4</text><rect x="459.0" y="119.5" width="0.8" height="2" fill="#aaa"/><text x="479.9" y="136.6" text-anchor="middle" class="it">6</text><rect x="479.5" y="119.5" width="0.8" height="2" fill="#aaa"/><text x="500.5" y="136.6" text-anchor="middle" class="it">8</text><rect x="500.1" y="119.5" width="0.8" height="2" fill="#aaa"/><text x="521.0" y="136.6" text-anchor="middle" class="it">10</text><rect x="520.6" y="119.5" width="0.8" height="2" fill="#aaa"/><text x="541.6" y="136.6" text-anchor="middle" class="it">12</text><rect x="541.2" y="119.5" width="0.8" height="2" fill="#aaa"/><text x="562.1" y="136.6" text-anchor="middle" class="it">14</text><rect x="561.7" y="119.5" width="0.8" height="2" fill="#aaa"/><text x="582.6" y="136.6" text-anchor="middle" class="it">16</text><rect x="582.2" y="119.5" width="0.8" height="2" fill="#aaa"/><text x="603.2" y="136.6" text-anchor="middle" class="it">18</text><rect x="602.8" y="119.5" width="0.8" height="2" fill="#aaa"/>
<text transform="translate(429.8,61.2) rotate(-90)" text-anchor="middle" class="it" style="font-size:9.4px">I/ &#956;A</text>
<circle cx="464.7" cy="114" r="4.3" fill="#ff00ff"/>
<circle cx="483.5" cy="99.8" r="4.3" fill="#ff00ff"/>
<circle cx="498.1" cy="86.9" r="4.3" fill="#ff00ff"/>
<circle cx="510.3" cy="77.8" r="4.3" fill="#ff00ff"/>
<circle cx="521.2" cy="67.1" r="4.3" fill="#ff00ff"/>
<circle cx="564.1" cy="41.9" r="4.3" fill="#ff00ff"/>
<circle cx="596.9" cy="18.8" r="4.3" fill="#ff00ff"/>
<line x1="463.9" y1="112.5" x2="595.6" y2="19.6" stroke="#000" stroke-width="3.2"/>
<text x="506" y="157.9" style="font-family:'Liberation Serif',serif;font-weight:bold;font-size:17.5px">v<tspan dy="-8.6" style="font-size:10.5px">1/2</tspan><tspan dy="8.6">/s</tspan><tspan dy="-8.6" style="font-size:10.5px">1/2</tspan></text>
</svg></body></html>
